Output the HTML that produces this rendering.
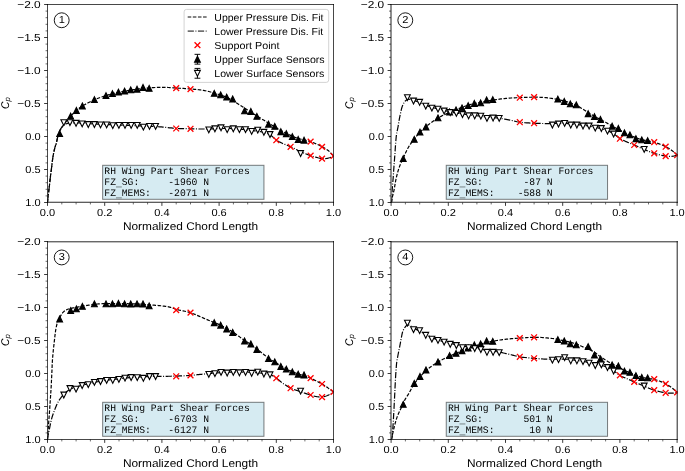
<!DOCTYPE html>
<html><head><meta charset="utf-8"><title>Cp distributions</title>
<style>html,body{margin:0;padding:0;background:#fff;width:685px;height:471px;overflow:hidden}svg{display:block;will-change:transform}</style>
</head><body>
<svg width="685" height="471" viewBox="0 0 685 471" text-rendering="geometricPrecision" font-family='"Liberation Sans", sans-serif'>
<rect width="685" height="471" fill="#fff"/>
<clipPath id="c0"><rect x="47.5" y="4.5" width="286" height="198"/></clipPath>
<g clip-path="url(#c0)">
<path d="M47.5 202.5 L47.57 201.75 L47.65 200.99 L47.72 200.24 L47.79 199.48 L47.87 198.73 L47.94 197.98 L48.02 197.24 L48.1 196.5 L48.18 195.82 L48.26 195.16 L48.35 194.52 L48.43 193.87 L48.52 193.21 L48.61 192.52 L48.7 191.79 L48.8 191 L48.95 189.68 L49.12 188.23 L49.29 186.68 L49.47 185.06 L49.65 183.41 L49.83 181.76 L50.02 180.15 L50.2 178.6 L50.37 177.19 L50.54 175.8 L50.72 174.43 L50.9 173.06 L51.07 171.7 L51.25 170.33 L51.42 168.97 L51.6 167.6 L51.77 166.22 L51.93 164.83 L52.09 163.43 L52.25 162.04 L52.42 160.66 L52.6 159.28 L52.79 157.93 L53 156.6 L53.22 155.36 L53.45 154.1 L53.7 152.84 L53.96 151.6 L54.22 150.39 L54.49 149.25 L54.75 148.18 L55 147.2 L55.16 146.62 L55.33 146.09 L55.5 145.6 L55.66 145.14 L55.83 144.68 L55.99 144.21 L56.15 143.72 L56.3 143.2 L56.47 142.54 L56.63 141.85 L56.79 141.14 L56.94 140.41 L57.1 139.68 L57.25 138.95 L57.42 138.22 L57.6 137.5 L57.79 136.78 L57.97 136.05 L58.16 135.31 L58.36 134.58 L58.57 133.86 L58.79 133.15 L59.04 132.46 L59.3 131.8 L59.56 131.23 L59.84 130.68 L60.13 130.14 L60.43 129.62 L60.74 129.11 L61.06 128.6 L61.38 128.1 L61.7 127.6 L62.01 127.12 L62.33 126.65 L62.64 126.18 L62.97 125.72 L63.3 125.27 L63.63 124.81 L63.96 124.36 L64.3 123.9 L64.65 123.43 L65 122.97 L65.36 122.51 L65.71 122.05 L66.08 121.59 L66.45 121.13 L66.82 120.67 L67.2 120.2 L67.6 119.71 L68 119.21 L68.41 118.72 L68.82 118.22 L69.24 117.72 L69.68 117.22 L70.13 116.71 L70.6 116.2 L71.17 115.59 L71.77 114.97 L72.38 114.34 L73.01 113.71 L73.66 113.07 L74.33 112.44 L75.01 111.81 L75.7 111.2 L76.45 110.55 L77.21 109.9 L77.98 109.26 L78.77 108.62 L79.59 107.99 L80.44 107.36 L81.34 106.73 L82.3 106.1 L83.63 105.28 L85.08 104.44 L86.6 103.59 L88.19 102.76 L89.81 101.94 L91.43 101.15 L93.04 100.4 L94.6 99.7 L96.02 99.09 L97.44 98.53 L98.85 97.99 L100.26 97.48 L101.68 96.99 L103.1 96.52 L104.54 96.06 L106 95.6 L107.54 95.13 L109.1 94.68 L110.67 94.24 L112.25 93.82 L113.84 93.42 L115.43 93.03 L117.02 92.65 L118.6 92.3 L120.14 91.97 L121.68 91.66 L123.22 91.37 L124.76 91.1 L126.3 90.84 L127.84 90.59 L129.37 90.34 L130.9 90.1 L132.39 89.87 L133.88 89.65 L135.37 89.43 L136.85 89.23 L138.33 89.03 L139.82 88.84 L141.3 88.67 L142.8 88.5 L144.32 88.34 L145.85 88.18 L147.39 88.04 L148.93 87.9 L150.46 87.78 L151.99 87.67 L153.5 87.58 L155 87.5 L156.4 87.44 L157.8 87.4 L159.18 87.37 L160.56 87.35 L161.93 87.35 L163.29 87.35 L164.65 87.37 L166 87.4 L167.28 87.44 L168.54 87.5 L169.78 87.57 L171.02 87.64 L172.27 87.73 L173.54 87.82 L174.85 87.91 L176.2 88 L177.89 88.11 L179.67 88.23 L181.51 88.35 L183.38 88.47 L185.25 88.6 L187.07 88.73 L188.84 88.87 L190.5 89 L191.79 89.11 L193.05 89.21 L194.27 89.31 L195.46 89.41 L196.63 89.52 L197.78 89.64 L198.9 89.76 L200 89.9 L200.93 90.03 L201.82 90.15 L202.7 90.29 L203.56 90.43 L204.41 90.58 L205.26 90.74 L206.13 90.91 L207 91.1 L207.92 91.31 L208.82 91.54 L209.72 91.78 L210.63 92.03 L211.55 92.3 L212.49 92.59 L213.48 92.88 L214.5 93.2 L215.91 93.63 L217.41 94.07 L218.97 94.54 L220.57 95.04 L222.19 95.57 L223.8 96.14 L225.37 96.74 L226.9 97.4 L228.4 98.12 L229.87 98.91 L231.33 99.74 L232.77 100.61 L234.21 101.5 L235.64 102.41 L237.06 103.31 L238.5 104.2 L239.94 105.09 L241.38 105.99 L242.8 106.89 L244.23 107.8 L245.66 108.72 L247.09 109.64 L248.54 110.57 L250 111.5 L251.54 112.48 L253.09 113.46 L254.65 114.46 L256.22 115.45 L257.8 116.45 L259.37 117.44 L260.94 118.43 L262.5 119.4 L264.03 120.35 L265.56 121.29 L267.09 122.23 L268.62 123.16 L270.15 124.09 L271.67 125 L273.19 125.91 L274.7 126.8 L276.15 127.65 L277.58 128.5 L279.01 129.34 L280.43 130.17 L281.86 130.99 L283.29 131.78 L284.74 132.56 L286.2 133.3 L287.66 134.01 L289.12 134.71 L290.6 135.39 L292.08 136.05 L293.57 136.68 L295.07 137.29 L296.58 137.86 L298.1 138.4 L299.64 138.88 L301.2 139.28 L302.78 139.65 L304.36 139.99 L305.94 140.33 L307.51 140.7 L309.07 141.11 L310.6 141.6 L312.13 142.16 L313.67 142.78 L315.22 143.44 L316.75 144.13 L318.24 144.83 L319.67 145.54 L321.03 146.23 L322.3 146.9 L323.19 147.38 L324.04 147.85 L324.84 148.31 L325.61 148.77 L326.36 149.24 L327.09 149.73 L327.8 150.25 L328.5 150.8 L329.18 151.39 L329.83 152.01 L330.46 152.65 L331.07 153.32 L331.68 153.99 L332.28 154.67 L332.88 155.34 L333.5 156" fill="none" stroke="#000" stroke-width="1.2" stroke-dasharray="3.57 1.55"/>
<path d="M47.5 202.5 L47.57 201.75 L47.65 200.99 L47.72 200.24 L47.79 199.48 L47.87 198.73 L47.94 197.98 L48.02 197.24 L48.1 196.5 L48.18 195.82 L48.26 195.16 L48.35 194.52 L48.43 193.87 L48.52 193.21 L48.61 192.52 L48.7 191.79 L48.8 191 L48.95 189.68 L49.12 188.23 L49.29 186.68 L49.47 185.06 L49.65 183.41 L49.83 181.76 L50.02 180.15 L50.2 178.6 L50.37 177.19 L50.54 175.8 L50.72 174.43 L50.9 173.06 L51.07 171.7 L51.25 170.33 L51.42 168.97 L51.6 167.6 L51.77 166.22 L51.93 164.83 L52.09 163.43 L52.25 162.04 L52.42 160.66 L52.6 159.28 L52.79 157.93 L53 156.6 L53.22 155.36 L53.45 154.1 L53.7 152.84 L53.96 151.6 L54.22 150.39 L54.49 149.25 L54.75 148.18 L55 147.2 L55.16 146.62 L55.33 146.09 L55.5 145.6 L55.66 145.14 L55.83 144.68 L55.99 144.21 L56.15 143.72 L56.3 143.2 L56.47 142.54 L56.63 141.85 L56.79 141.14 L56.94 140.41 L57.1 139.68 L57.25 138.95 L57.42 138.22 L57.6 137.5 L57.79 136.78 L57.98 136.05 L58.17 135.32 L58.37 134.59 L58.58 133.87 L58.8 133.16 L59.04 132.47 L59.3 131.8 L59.56 131.2 L59.83 130.61 L60.11 130.03 L60.41 129.46 L60.71 128.91 L61.03 128.38 L61.36 127.87 L61.7 127.4 L61.99 127.02 L62.29 126.65 L62.6 126.3 L62.91 125.96 L63.23 125.64 L63.57 125.34 L63.93 125.06 L64.3 124.8 L64.7 124.55 L65.12 124.32 L65.54 124.11 L65.99 123.91 L66.45 123.74 L66.94 123.58 L67.45 123.43 L68 123.3 L68.83 123.14 L69.73 123.02 L70.69 122.93 L71.7 122.87 L72.74 122.83 L73.81 122.81 L74.9 122.8 L76 122.8 L77.38 122.83 L78.83 122.9 L80.32 122.99 L81.85 123.12 L83.39 123.25 L84.94 123.38 L86.48 123.5 L88 123.6 L89.5 123.68 L90.99 123.76 L92.48 123.84 L93.98 123.91 L95.47 123.99 L96.97 124.06 L98.48 124.13 L100 124.2 L101.58 124.28 L103.18 124.36 L104.78 124.43 L106.39 124.51 L108 124.59 L109.61 124.66 L111.21 124.73 L112.8 124.8 L114.34 124.86 L115.87 124.91 L117.39 124.96 L118.91 125 L120.42 125.04 L121.94 125.09 L123.47 125.14 L125 125.2 L126.57 125.27 L128.14 125.34 L129.71 125.41 L131.29 125.49 L132.87 125.57 L134.45 125.65 L136.03 125.73 L137.6 125.8 L139.15 125.87 L140.7 125.93 L142.24 125.98 L143.79 126.04 L145.33 126.1 L146.88 126.16 L148.44 126.22 L150 126.3 L151.61 126.38 L153.23 126.47 L154.85 126.56 L156.48 126.65 L158.11 126.75 L159.74 126.86 L161.37 126.97 L163 127.1 L164.64 127.24 L166.28 127.41 L167.92 127.59 L169.56 127.78 L171.21 127.96 L172.86 128.13 L174.52 128.28 L176.2 128.4 L177.98 128.5 L179.8 128.57 L181.65 128.63 L183.49 128.67 L185.32 128.71 L187.12 128.73 L188.85 128.76 L190.5 128.8 L191.78 128.83 L193.01 128.86 L194.19 128.9 L195.36 128.93 L196.5 128.95 L197.65 128.97 L198.81 128.99 L200 129 L201.23 129 L202.46 129 L203.69 129 L204.93 128.99 L206.17 128.97 L207.43 128.95 L208.7 128.93 L210 128.9 L211.45 128.86 L212.94 128.81 L214.44 128.75 L215.96 128.69 L217.49 128.63 L219.01 128.57 L220.52 128.53 L222 128.5 L223.39 128.48 L224.77 128.47 L226.14 128.47 L227.5 128.47 L228.86 128.48 L230.23 128.51 L231.61 128.54 L233 128.6 L234.5 128.68 L236.04 128.78 L237.61 128.9 L239.17 129.03 L240.71 129.17 L242.22 129.31 L243.65 129.46 L245 129.6 L245.97 129.71 L246.9 129.82 L247.79 129.93 L248.65 130.05 L249.5 130.16 L250.33 130.27 L251.16 130.39 L252 130.5 L252.77 130.6 L253.53 130.7 L254.29 130.79 L255.03 130.88 L255.77 130.98 L256.51 131.08 L257.25 131.19 L258 131.3 L258.75 131.42 L259.5 131.53 L260.26 131.64 L261.01 131.76 L261.76 131.89 L262.51 132.03 L263.26 132.2 L264 132.4 L264.77 132.62 L265.55 132.86 L266.32 133.11 L267.09 133.38 L267.86 133.68 L268.61 134.01 L269.36 134.38 L270.1 134.8 L270.9 135.34 L271.68 135.97 L272.44 136.66 L273.19 137.38 L273.95 138.12 L274.71 138.83 L275.49 139.5 L276.3 140.1 L277.1 140.62 L277.91 141.1 L278.73 141.55 L279.57 141.98 L280.41 142.39 L281.26 142.79 L282.13 143.19 L283 143.6 L283.92 144.02 L284.86 144.41 L285.8 144.8 L286.75 145.17 L287.72 145.55 L288.7 145.95 L289.69 146.36 L290.7 146.8 L291.88 147.35 L293.09 147.93 L294.32 148.55 L295.57 149.17 L296.82 149.8 L298.08 150.43 L299.34 151.03 L300.6 151.6 L301.83 152.14 L303.06 152.68 L304.29 153.21 L305.53 153.72 L306.77 154.22 L308.03 154.7 L309.3 155.16 L310.6 155.6 L312.01 156.05 L313.49 156.51 L315 156.96 L316.52 157.38 L318.01 157.76 L319.46 158.08 L320.83 158.33 L322.1 158.5 L322.93 158.57 L323.71 158.61 L324.46 158.61 L325.19 158.59 L325.9 158.54 L326.6 158.45 L327.29 158.34 L328 158.2 L328.71 158.02 L329.4 157.78 L330.09 157.51 L330.78 157.22 L331.46 156.91 L332.13 156.59 L332.82 156.29 L333.5 156" fill="none" stroke="#000" stroke-width="1.2" stroke-dasharray="6.18 1.55 0.97 1.55"/>
<path d="M173.3 85.2L179.1 91M173.3 91L179.1 85.2M187.6 86.2L193.4 92M187.6 92L193.4 86.2M307.72 138.7L313.52 144.5M307.72 144.5L313.52 138.7M319.16 144L324.96 149.8M319.16 149.8L324.96 144M330.6 153.1L336.4 158.9M330.6 158.9L336.4 153.1M173.3 125.6L179.1 131.4M173.3 131.4L179.1 125.6M187.6 125.9L193.4 131.7M187.6 131.7L193.4 125.9M273.4 137.3L279.2 143.1M273.4 143.1L279.2 137.3M287.7 143.9L293.5 149.7M287.7 149.7L293.5 143.9M307.72 152.7L313.52 158.5M307.72 158.5L313.52 152.7M319.16 155.7L324.96 161.5M319.16 161.5L324.96 155.7M330.6 153.1L336.4 158.9M330.6 158.9L336.4 153.1" fill="none" stroke="#ff0000" stroke-width="1.3"/>
<path d="M59.66 130.7L56.76 136.5L62.55 136.5ZM70.67 113.2L67.77 119L73.56 119ZM76.39 107.6L73.49 113.4L79.28 113.4ZM82.39 103.1L79.49 108.9L85.29 108.9ZM94.4 96.7L91.51 102.5L97.3 102.5ZM105.99 92.7L103.09 98.5L108.88 98.5ZM112.42 90.7L109.52 96.5L115.32 96.5ZM118.43 89.2L115.53 95L121.33 95ZM124.58 88.2L121.68 94L127.47 94ZM130.73 86.9L127.83 92.7L133.62 92.7ZM137.02 86.3L134.12 92.1L139.92 92.1ZM143.02 84.6L140.13 90.4L145.92 90.4ZM149.17 85.5L146.28 91.3L152.07 91.3ZM214.24 90.4L211.34 96.2L217.14 96.2ZM220.67 91.9L217.78 97.7L223.57 97.7ZM226.68 94.2L223.78 100L229.58 100ZM232.69 96.1L229.79 101.9L235.58 101.9ZM244.55 107.9L241.66 113.7L247.45 113.7ZM250.85 108.6L247.95 114.4L253.74 114.4ZM256.85 113.5L253.95 119.3L259.75 119.3ZM268.52 121.3L265.62 127.1L271.42 127.1ZM274.76 123.5L271.86 129.3L277.65 129.3ZM280.82 128.8L277.92 134.6L283.72 134.6ZM286.31 130.8L283.41 136.6L289.21 136.6ZM292.32 133.7L289.42 139.5L295.21 139.5ZM298.18 136.6L295.28 142.4L301.08 142.4ZM304.04 137.3L301.14 143.1L306.94 143.1Z" fill="#000" stroke="#000" stroke-width="1.1" stroke-linejoin="miter"/>
<path d="M63.8 125.6L60.9 119.8L66.7 119.8Z" fill="#fff" stroke="#000" stroke-width="1.1"/>
<path d="M69.92 125.5L67.02 119.7L72.82 119.7Z" fill="#fff" stroke="#000" stroke-width="1.1"/>
<path d="M76.04 126.2L73.14 120.4L78.94 120.4Z" fill="#fff" stroke="#000" stroke-width="1.1"/>
<path d="M82.16 126.8L79.27 121L85.06 121Z" fill="#fff" stroke="#000" stroke-width="1.1"/>
<path d="M88.28 127.4L85.39 121.6L91.18 121.6Z" fill="#fff" stroke="#000" stroke-width="1.1"/>
<path d="M94.4 127.4L91.51 121.6L97.3 121.6Z" fill="#fff" stroke="#000" stroke-width="1.1"/>
<path d="M100.52 127.8L97.63 122L103.42 122Z" fill="#fff" stroke="#000" stroke-width="1.1"/>
<path d="M106.64 127.8L103.75 122L109.54 122Z" fill="#fff" stroke="#000" stroke-width="1.1"/>
<path d="M112.77 128.5L109.87 122.7L115.66 122.7Z" fill="#fff" stroke="#000" stroke-width="1.1"/>
<path d="M118.89 128.3L115.99 122.5L121.78 122.5Z" fill="#fff" stroke="#000" stroke-width="1.1"/>
<path d="M125.01 128.3L122.11 122.5L127.9 122.5Z" fill="#fff" stroke="#000" stroke-width="1.1"/>
<path d="M131.13 128.3L128.23 122.5L134.02 122.5Z" fill="#fff" stroke="#000" stroke-width="1.1"/>
<path d="M137.25 128.3L134.35 122.5L140.14 122.5Z" fill="#fff" stroke="#000" stroke-width="1.1"/>
<path d="M143.37 130L140.47 124.2L146.27 124.2Z" fill="#fff" stroke="#000" stroke-width="1.1"/>
<path d="M149.49 129.3L146.59 123.5L152.39 123.5Z" fill="#fff" stroke="#000" stroke-width="1.1"/>
<path d="M155.61 129.3L152.71 123.5L158.51 123.5Z" fill="#fff" stroke="#000" stroke-width="1.1"/>
<path d="M208.8 132.8L205.91 127L211.7 127Z" fill="#fff" stroke="#000" stroke-width="1.1"/>
<path d="M214.92 131.7L212.03 125.9L217.82 125.9Z" fill="#fff" stroke="#000" stroke-width="1.1"/>
<path d="M221.04 130.7L218.15 124.9L223.94 124.9Z" fill="#fff" stroke="#000" stroke-width="1.1"/>
<path d="M227.17 132.6L224.27 126.8L230.06 126.8Z" fill="#fff" stroke="#000" stroke-width="1.1"/>
<path d="M233.29 131.7L230.39 125.9L236.18 125.9Z" fill="#fff" stroke="#000" stroke-width="1.1"/>
<path d="M239.41 132.6L236.51 126.8L242.3 126.8Z" fill="#fff" stroke="#000" stroke-width="1.1"/>
<path d="M245.53 132.6L242.63 126.8L248.42 126.8Z" fill="#fff" stroke="#000" stroke-width="1.1"/>
<path d="M251.65 134.3L248.75 128.5L254.54 128.5Z" fill="#fff" stroke="#000" stroke-width="1.1"/>
<path d="M257.77 133L254.87 127.2L260.67 127.2Z" fill="#fff" stroke="#000" stroke-width="1.1"/>
<path d="M263.89 135.2L260.99 129.4L266.79 129.4Z" fill="#fff" stroke="#000" stroke-width="1.1"/>
<path d="M270.01 137.4L267.11 131.6L272.91 131.6Z" fill="#fff" stroke="#000" stroke-width="1.1"/>
<path d="M300.61 156.4L297.71 150.6L303.51 150.6Z" fill="#fff" stroke="#000" stroke-width="1.1"/>
</g>
<path d="M47.5 4.5H44.12M47.5 37.5H44.12M47.5 70.5H44.12M47.5 103.5H44.12M47.5 136.5H44.12M47.5 169.5H44.12M47.5 202.5H44.12M47.5 202.5V205.88M104.7 202.5V205.88M161.9 202.5V205.88M219.1 202.5V205.88M276.3 202.5V205.88M333.5 202.5V205.88" stroke="#000" stroke-width="0.77" fill="none"/>
<path d="M47.5 11.1H45.57M47.5 17.7H45.57M47.5 24.3H45.57M47.5 30.9H45.57M47.5 44.1H45.57M47.5 50.7H45.57M47.5 57.3H45.57M47.5 63.9H45.57M47.5 77.1H45.57M47.5 83.7H45.57M47.5 90.3H45.57M47.5 96.9H45.57M47.5 110.1H45.57M47.5 116.7H45.57M47.5 123.3H45.57M47.5 129.9H45.57M47.5 143.1H45.57M47.5 149.7H45.57M47.5 156.3H45.57M47.5 162.9H45.57M47.5 176.1H45.57M47.5 182.7H45.57M47.5 189.3H45.57M47.5 195.9H45.57M61.8 202.5V204.43M76.1 202.5V204.43M90.4 202.5V204.43M119 202.5V204.43M133.3 202.5V204.43M147.6 202.5V204.43M176.2 202.5V204.43M190.5 202.5V204.43M204.8 202.5V204.43M233.4 202.5V204.43M247.7 202.5V204.43M262 202.5V204.43M290.6 202.5V204.43M304.9 202.5V204.43M319.2 202.5V204.43" stroke="#000" stroke-width="0.58" fill="none"/>
<text x="40.74" y="8.35" font-size="10.2" text-anchor="end" font-family='"Liberation Sans", sans-serif' fill="#000" textLength="23.46" lengthAdjust="spacingAndGlyphs">−2.0</text>
<text x="40.74" y="41.35" font-size="10.2" text-anchor="end" font-family='"Liberation Sans", sans-serif' fill="#000" textLength="23.46" lengthAdjust="spacingAndGlyphs">−1.5</text>
<text x="40.74" y="74.35" font-size="10.2" text-anchor="end" font-family='"Liberation Sans", sans-serif' fill="#000" textLength="23.46" lengthAdjust="spacingAndGlyphs">−1.0</text>
<text x="40.74" y="107.35" font-size="10.2" text-anchor="end" font-family='"Liberation Sans", sans-serif' fill="#000" textLength="23.46" lengthAdjust="spacingAndGlyphs">−0.5</text>
<text x="40.74" y="140.35" font-size="10.2" text-anchor="end" font-family='"Liberation Sans", sans-serif' fill="#000" textLength="15.36" lengthAdjust="spacingAndGlyphs">0.0</text>
<text x="40.74" y="173.35" font-size="10.2" text-anchor="end" font-family='"Liberation Sans", sans-serif' fill="#000" textLength="15.36" lengthAdjust="spacingAndGlyphs">0.5</text>
<text x="40.74" y="206.35" font-size="10.2" text-anchor="end" font-family='"Liberation Sans", sans-serif' fill="#000" textLength="15.36" lengthAdjust="spacingAndGlyphs">1.0</text>
<text x="47.5" y="216.2" font-size="10.2" text-anchor="middle" font-family='"Liberation Sans", sans-serif' fill="#000" textLength="15.36" lengthAdjust="spacingAndGlyphs">0.0</text>
<text x="104.7" y="216.2" font-size="10.2" text-anchor="middle" font-family='"Liberation Sans", sans-serif' fill="#000" textLength="15.36" lengthAdjust="spacingAndGlyphs">0.2</text>
<text x="161.9" y="216.2" font-size="10.2" text-anchor="middle" font-family='"Liberation Sans", sans-serif' fill="#000" textLength="15.36" lengthAdjust="spacingAndGlyphs">0.4</text>
<text x="219.1" y="216.2" font-size="10.2" text-anchor="middle" font-family='"Liberation Sans", sans-serif' fill="#000" textLength="15.36" lengthAdjust="spacingAndGlyphs">0.6</text>
<text x="276.3" y="216.2" font-size="10.2" text-anchor="middle" font-family='"Liberation Sans", sans-serif' fill="#000" textLength="15.36" lengthAdjust="spacingAndGlyphs">0.8</text>
<text x="333.5" y="216.2" font-size="10.2" text-anchor="middle" font-family='"Liberation Sans", sans-serif' fill="#000" textLength="15.36" lengthAdjust="spacingAndGlyphs">1.0</text>
<text x="190.5" y="230.3" font-size="11.22" text-anchor="middle" font-family='"Liberation Sans", sans-serif' fill="#000" textLength="135.25" lengthAdjust="spacingAndGlyphs">Normalized Chord Length</text>
<g transform="translate(9.1 103.5) rotate(-90)">
<text x="-5.6" y="0" font-size="11.22" font-family='"Liberation Sans", sans-serif' font-style="italic" textLength="7.42" lengthAdjust="spacingAndGlyphs">C</text>
<text x="2.0" y="0.9" font-size="7.85" font-family='"Liberation Sans", sans-serif' font-style="italic">p</text>
</g>
<circle cx="61.7" cy="20.25" r="7.45" fill="none" stroke="#000" stroke-width="0.9"/>
<text x="61.8" y="23.25" font-size="10.2" text-anchor="middle" font-family='"Liberation Sans", sans-serif' fill="#000" textLength="6.15" lengthAdjust="spacingAndGlyphs">1</text>
<rect x="102.65" y="165.3" width="161.3" height="34.0" fill="#d6ebf2" stroke="#000" stroke-opacity="0.5" stroke-width="1"/>
<text x="104.35" y="173.9" font-size="10" font-family='"Liberation Mono", monospace' fill="#000" xml:space="preserve" textLength="145.39" lengthAdjust="spacingAndGlyphs">RH Wing Part Shear Forces</text>
<text x="104.35" y="184.85" font-size="10" font-family='"Liberation Mono", monospace' fill="#000" xml:space="preserve" textLength="104.68" lengthAdjust="spacingAndGlyphs">FZ SG:     -1960 N</text>
<rect x="115.98" y="186.7" width="5.82" height="0.55" fill="#000" fill-opacity="0.8"/>
<text x="104.35" y="195.8" font-size="10" font-family='"Liberation Mono", monospace' fill="#000" xml:space="preserve" textLength="104.68" lengthAdjust="spacingAndGlyphs">FZ MEMS:   -2071 N</text>
<rect x="115.98" y="197.65" width="5.82" height="0.55" fill="#000" fill-opacity="0.8"/>
<path d="M47.5 4.5H333.5" stroke="#000" stroke-width="0.72" fill="none" stroke-linecap="square"/>
<path d="M47.5 202.25H333.5" stroke="#000" stroke-width="0.85" fill="none" stroke-linecap="square"/>
<path d="M47.5 4.5V202.5M333.5 4.5V202.5" stroke="#000" stroke-width="0.72" fill="none" stroke-linecap="square"/>
<clipPath id="c1"><rect x="391.5" y="4.5" width="286" height="198"/></clipPath>
<g clip-path="url(#c1)">
<path d="M391.5 202.5 L391.62 201.75 L391.74 201 L391.85 200.25 L391.97 199.5 L392.09 198.75 L392.22 198 L392.35 197.25 L392.5 196.5 L392.66 195.74 L392.84 195.01 L393.02 194.28 L393.21 193.54 L393.41 192.79 L393.61 192.01 L393.8 191.18 L394 190.3 L394.27 188.93 L394.53 187.44 L394.8 185.86 L395.07 184.22 L395.35 182.55 L395.64 180.89 L395.96 179.26 L396.3 177.7 L396.65 176.26 L397.01 174.82 L397.38 173.4 L397.78 171.99 L398.18 170.6 L398.61 169.23 L399.05 167.9 L399.5 166.6 L399.92 165.49 L400.35 164.42 L400.8 163.39 L401.25 162.37 L401.72 161.36 L402.2 160.33 L402.7 159.29 L403.2 158.2 L403.78 156.91 L404.38 155.57 L404.99 154.19 L405.62 152.8 L406.26 151.42 L406.92 150.06 L407.6 148.75 L408.3 147.5 L408.95 146.42 L409.62 145.37 L410.3 144.36 L411 143.37 L411.71 142.39 L412.43 141.43 L413.16 140.46 L413.9 139.5 L414.65 138.53 L415.42 137.55 L416.2 136.58 L417 135.62 L417.8 134.67 L418.6 133.75 L419.4 132.86 L420.2 132 L420.9 131.27 L421.58 130.58 L422.25 129.92 L422.93 129.27 L423.63 128.62 L424.37 127.97 L425.15 127.3 L426 126.6 L427.28 125.57 L428.7 124.47 L430.21 123.33 L431.78 122.17 L433.38 121.03 L434.97 119.94 L436.53 118.92 L438 118 L439.17 117.32 L440.31 116.69 L441.44 116.11 L442.56 115.56 L443.67 115.03 L444.78 114.52 L445.89 114.01 L447 113.5 L448.06 113.02 L449.09 112.56 L450.12 112.11 L451.15 111.67 L452.19 111.24 L453.26 110.8 L454.36 110.36 L455.5 109.9 L456.94 109.32 L458.45 108.71 L460.01 108.09 L461.6 107.46 L463.2 106.85 L464.82 106.26 L466.42 105.7 L468 105.2 L469.5 104.77 L470.99 104.37 L472.48 104 L473.97 103.66 L475.46 103.34 L476.96 103.02 L478.48 102.71 L480 102.4 L481.59 102.08 L483.18 101.77 L484.79 101.47 L486.41 101.17 L488.03 100.89 L489.65 100.62 L491.28 100.35 L492.9 100.1 L494.53 99.85 L496.16 99.61 L497.79 99.38 L499.42 99.16 L501.06 98.94 L502.7 98.75 L504.35 98.57 L506 98.4 L507.68 98.25 L509.37 98.12 L511.06 98.01 L512.76 97.92 L514.46 97.83 L516.17 97.75 L517.88 97.67 L519.6 97.6 L521.39 97.52 L523.22 97.45 L525.08 97.39 L526.93 97.33 L528.76 97.28 L530.54 97.24 L532.26 97.21 L533.9 97.2 L535.14 97.2 L536.32 97.2 L537.47 97.2 L538.59 97.22 L539.69 97.24 L540.79 97.28 L541.89 97.33 L543 97.4 L544.09 97.48 L545.15 97.57 L546.2 97.67 L547.25 97.78 L548.32 97.91 L549.41 98.05 L550.53 98.22 L551.7 98.4 L553.24 98.66 L554.87 98.95 L556.55 99.26 L558.27 99.61 L560 99.97 L561.71 100.36 L563.39 100.77 L565 101.2 L566.46 101.61 L567.92 102.05 L569.38 102.5 L570.81 102.97 L572.2 103.45 L573.54 103.96 L574.81 104.47 L576 105 L576.86 105.42 L577.66 105.85 L578.42 106.29 L579.14 106.74 L579.85 107.2 L580.56 107.66 L581.27 108.13 L582 108.6 L582.75 109.09 L583.5 109.59 L584.24 110.09 L584.99 110.6 L585.73 111.11 L586.48 111.62 L587.24 112.12 L588 112.6 L588.77 113.07 L589.56 113.53 L590.34 113.99 L591.13 114.44 L591.93 114.88 L592.72 115.32 L593.51 115.76 L594.3 116.2 L595.08 116.63 L595.86 117.07 L596.64 117.5 L597.42 117.93 L598.2 118.35 L598.97 118.78 L599.74 119.19 L600.5 119.6 L601.2 119.97 L601.89 120.33 L602.57 120.69 L603.25 121.04 L603.92 121.39 L604.61 121.75 L605.3 122.12 L606 122.5 L606.78 122.94 L607.57 123.39 L608.38 123.86 L609.18 124.34 L609.99 124.82 L610.8 125.29 L611.6 125.75 L612.4 126.2 L613.16 126.62 L613.91 127.02 L614.66 127.42 L615.41 127.82 L616.16 128.21 L616.9 128.61 L617.65 129 L618.4 129.4 L619.15 129.8 L619.9 130.21 L620.65 130.62 L621.4 131.03 L622.15 131.43 L622.9 131.83 L623.65 132.22 L624.4 132.6 L625.13 132.96 L625.85 133.31 L626.57 133.65 L627.3 133.99 L628.02 134.33 L628.75 134.65 L629.47 134.98 L630.2 135.3 L630.92 135.62 L631.64 135.93 L632.36 136.24 L633.08 136.55 L633.81 136.85 L634.54 137.14 L635.27 137.43 L636 137.7 L636.74 137.97 L637.49 138.22 L638.24 138.47 L638.99 138.72 L639.75 138.95 L640.5 139.18 L641.25 139.39 L642 139.6 L642.71 139.79 L643.42 139.96 L644.13 140.13 L644.84 140.29 L645.54 140.44 L646.26 140.59 L646.97 140.74 L647.7 140.9 L648.47 141.06 L649.26 141.21 L650.05 141.36 L650.85 141.51 L651.64 141.66 L652.43 141.83 L653.22 142 L654 142.2 L654.76 142.41 L655.52 142.64 L656.27 142.88 L657.02 143.13 L657.77 143.38 L658.52 143.65 L659.26 143.92 L660 144.2 L660.75 144.48 L661.49 144.77 L662.24 145.06 L662.98 145.36 L663.72 145.67 L664.46 146 L665.18 146.34 L665.9 146.7 L666.62 147.08 L667.33 147.48 L668.03 147.9 L668.73 148.32 L669.42 148.77 L670.11 149.23 L670.81 149.71 L671.5 150.2 L672.25 150.77 L673.01 151.36 L673.76 151.98 L674.51 152.62 L675.25 153.27 L676 153.92 L676.75 154.57 L677.5 155.2" fill="none" stroke="#000" stroke-width="1.2" stroke-dasharray="3.57 1.55"/>
<path d="M391.5 202.5 L391.59 200.94 L391.67 199.37 L391.75 197.81 L391.83 196.25 L391.92 194.69 L392 193.12 L392.1 191.56 L392.2 190 L392.31 188.43 L392.43 186.86 L392.56 185.29 L392.69 183.72 L392.82 182.15 L392.95 180.59 L393.08 179.04 L393.2 177.5 L393.31 176.04 L393.41 174.58 L393.51 173.13 L393.61 171.69 L393.7 170.25 L393.8 168.83 L393.9 167.41 L394 166 L394.1 164.67 L394.2 163.35 L394.3 162.05 L394.4 160.75 L394.5 159.45 L394.6 158.15 L394.7 156.83 L394.8 155.5 L394.9 154.08 L395 152.64 L395.09 151.18 L395.19 149.71 L395.29 148.25 L395.39 146.81 L395.49 145.39 L395.6 144 L395.7 142.76 L395.79 141.53 L395.89 140.32 L395.99 139.12 L396.1 137.94 L396.21 136.77 L396.35 135.62 L396.5 134.5 L396.66 133.52 L396.84 132.56 L397.03 131.61 L397.23 130.68 L397.43 129.76 L397.63 128.84 L397.82 127.92 L398 127 L398.16 126.09 L398.31 125.19 L398.46 124.29 L398.6 123.39 L398.74 122.5 L398.89 121.6 L399.04 120.7 L399.2 119.8 L399.37 118.88 L399.55 117.96 L399.73 117.03 L399.92 116.1 L400.11 115.18 L400.31 114.27 L400.5 113.37 L400.7 112.5 L400.88 111.72 L401.05 110.95 L401.22 110.18 L401.39 109.43 L401.57 108.69 L401.77 107.97 L401.97 107.27 L402.2 106.6 L402.41 106.05 L402.62 105.5 L402.84 104.97 L403.08 104.46 L403.32 103.97 L403.57 103.49 L403.83 103.03 L404.1 102.6 L404.34 102.25 L404.59 101.9 L404.85 101.57 L405.11 101.25 L405.38 100.96 L405.65 100.68 L405.93 100.43 L406.2 100.2 L406.42 100.04 L406.63 99.89 L406.84 99.76 L407.06 99.63 L407.28 99.53 L407.51 99.44 L407.75 99.36 L408 99.3 L408.33 99.25 L408.69 99.23 L409.06 99.24 L409.45 99.27 L409.84 99.31 L410.23 99.37 L410.62 99.43 L411 99.5 L411.37 99.58 L411.73 99.66 L412.09 99.76 L412.44 99.87 L412.81 99.99 L413.18 100.12 L413.58 100.26 L414 100.4 L414.65 100.62 L415.36 100.87 L416.11 101.13 L416.88 101.41 L417.67 101.7 L418.46 102 L419.24 102.3 L420 102.6 L420.75 102.91 L421.5 103.23 L422.25 103.56 L423 103.9 L423.75 104.24 L424.5 104.57 L425.25 104.89 L426 105.2 L426.74 105.5 L427.49 105.79 L428.23 106.08 L428.98 106.37 L429.73 106.64 L430.48 106.91 L431.24 107.16 L432 107.4 L432.78 107.62 L433.56 107.83 L434.36 108.02 L435.15 108.2 L435.95 108.37 L436.74 108.54 L437.53 108.72 L438.3 108.9 L439.03 109.08 L439.74 109.25 L440.45 109.42 L441.16 109.6 L441.86 109.77 L442.57 109.95 L443.28 110.12 L444 110.3 L444.74 110.49 L445.49 110.68 L446.23 110.88 L446.98 111.07 L447.73 111.26 L448.49 111.45 L449.24 111.63 L450 111.8 L450.77 111.96 L451.54 112.11 L452.31 112.25 L453.09 112.38 L453.86 112.51 L454.64 112.64 L455.42 112.77 L456.2 112.9 L456.99 113.03 L457.78 113.16 L458.57 113.29 L459.36 113.41 L460.15 113.53 L460.94 113.66 L461.72 113.78 L462.5 113.9 L463.23 114.02 L463.96 114.13 L464.68 114.25 L465.4 114.37 L466.12 114.48 L466.84 114.59 L467.56 114.7 L468.3 114.8 L469.07 114.9 L469.85 114.99 L470.64 115.08 L471.43 115.17 L472.22 115.25 L473.01 115.33 L473.81 115.41 L474.6 115.5 L475.4 115.59 L476.2 115.67 L477 115.76 L477.8 115.84 L478.6 115.93 L479.4 116.02 L480.2 116.11 L481 116.2 L481.8 116.3 L482.61 116.4 L483.41 116.5 L484.21 116.61 L485.01 116.71 L485.81 116.81 L486.61 116.91 L487.4 117 L488.16 117.08 L488.91 117.16 L489.66 117.23 L490.4 117.31 L491.15 117.38 L491.89 117.45 L492.64 117.52 L493.4 117.6 L494.17 117.68 L494.93 117.75 L495.69 117.83 L496.45 117.91 L497.22 117.99 L498.02 118.08 L498.84 118.18 L499.7 118.3 L500.87 118.47 L502.11 118.67 L503.4 118.88 L504.72 119.11 L506.06 119.35 L507.4 119.6 L508.71 119.85 L510 120.1 L511.2 120.35 L512.38 120.63 L513.54 120.91 L514.7 121.2 L515.87 121.48 L517.07 121.75 L518.31 121.99 L519.6 122.2 L521.27 122.41 L523.04 122.58 L524.89 122.73 L526.77 122.85 L528.64 122.95 L530.48 123.04 L532.25 123.12 L533.9 123.2 L535.13 123.26 L536.32 123.31 L537.46 123.35 L538.57 123.39 L539.67 123.42 L540.77 123.45 L541.87 123.48 L543 123.5 L544.16 123.52 L545.34 123.55 L546.53 123.57 L547.72 123.59 L548.89 123.6 L550.04 123.61 L551.14 123.61 L552.2 123.6 L553.01 123.59 L553.79 123.56 L554.54 123.53 L555.28 123.5 L556 123.47 L556.73 123.44 L557.46 123.42 L558.2 123.4 L558.96 123.39 L559.72 123.38 L560.48 123.37 L561.24 123.36 L562 123.36 L562.76 123.37 L563.53 123.38 L564.3 123.4 L565.1 123.43 L565.9 123.47 L566.71 123.51 L567.51 123.56 L568.32 123.61 L569.12 123.67 L569.92 123.74 L570.7 123.8 L571.43 123.86 L572.14 123.93 L572.85 124 L573.55 124.08 L574.25 124.15 L574.96 124.23 L575.67 124.32 L576.4 124.4 L577.18 124.49 L577.98 124.59 L578.78 124.68 L579.58 124.78 L580.39 124.88 L581.2 124.99 L582 125.09 L582.8 125.2 L583.59 125.31 L584.39 125.41 L585.18 125.51 L585.97 125.62 L586.76 125.73 L587.55 125.85 L588.33 125.97 L589.1 126.1 L589.84 126.23 L590.57 126.38 L591.29 126.52 L592.01 126.68 L592.73 126.83 L593.45 126.99 L594.17 127.14 L594.9 127.3 L595.66 127.46 L596.42 127.61 L597.18 127.76 L597.95 127.91 L598.72 128.07 L599.48 128.23 L600.24 128.41 L601 128.6 L601.76 128.8 L602.51 129.01 L603.26 129.22 L604.01 129.45 L604.76 129.69 L605.51 129.94 L606.25 130.21 L607 130.5 L607.79 130.82 L608.58 131.16 L609.37 131.52 L610.16 131.9 L610.95 132.29 L611.74 132.7 L612.52 133.14 L613.3 133.6 L614.14 134.15 L614.97 134.74 L615.8 135.38 L616.63 136.03 L617.46 136.69 L618.29 137.33 L619.14 137.94 L620 138.5 L620.85 139 L621.71 139.47 L622.58 139.93 L623.45 140.36 L624.33 140.78 L625.22 141.19 L626.11 141.6 L627 142 L627.89 142.4 L628.78 142.77 L629.68 143.13 L630.57 143.49 L631.48 143.85 L632.4 144.21 L633.34 144.6 L634.3 145 L635.44 145.5 L636.6 146.02 L637.79 146.56 L639 147.12 L640.22 147.67 L641.45 148.23 L642.68 148.77 L643.9 149.3 L645.14 149.83 L646.38 150.36 L647.61 150.89 L648.86 151.41 L650.12 151.91 L651.39 152.4 L652.68 152.87 L654 153.3 L655.46 153.74 L656.98 154.17 L658.54 154.59 L660.11 154.98 L661.66 155.33 L663.17 155.64 L664.59 155.9 L665.9 156.1 L666.76 156.2 L667.57 156.29 L668.34 156.34 L669.09 156.38 L669.82 156.39 L670.55 156.38 L671.27 156.35 L672 156.3 L672.7 156.22 L673.4 156.11 L674.09 155.98 L674.77 155.83 L675.45 155.67 L676.13 155.5 L676.81 155.35 L677.5 155.2" fill="none" stroke="#000" stroke-width="1.2" stroke-dasharray="6.18 1.55 0.97 1.55"/>
<path d="M516.9 94.8L522.7 100.6M516.9 100.6L522.7 94.8M531.2 94.2L537 100M531.2 100L537 94.2M651.32 139.2L657.12 145M651.32 145L657.12 139.2M662.76 143.8L668.56 149.6M662.76 149.6L668.56 143.8M674.2 152.3L680 158.1M674.2 158.1L680 152.3M516.9 119.3L522.7 125.1M516.9 125.1L522.7 119.3M531.2 120.3L537 126.1M531.2 126.1L537 120.3M617 135.8L622.8 141.6M617 141.6L622.8 135.8M631.3 142.1L637.1 147.9M631.3 147.9L637.1 142.1M651.32 150.4L657.12 156.2M651.32 156.2L657.12 150.4M662.76 153.2L668.56 159M662.76 159L668.56 153.2M674.2 152.3L680 158.1M674.2 158.1L680 152.3" fill="none" stroke="#ff0000" stroke-width="1.3"/>
<path d="M403.25 155.7L400.36 161.5L406.15 161.5ZM414.27 136.4L411.37 142.2L417.16 142.2ZM419.99 129.2L417.09 135L422.88 135ZM425.99 124.1L423.09 129.9L428.89 129.9ZM438 115L435.11 120.8L440.9 120.8ZM449.59 109.1L446.69 114.9L452.49 114.9ZM456.02 106.9L453.12 112.7L458.92 112.7ZM462.03 105L459.13 110.8L464.93 110.8ZM468.18 102.7L465.28 108.5L471.08 108.5ZM474.33 100.6L471.43 106.4L477.22 106.4ZM480.62 99.9L477.72 105.7L483.52 105.7ZM486.62 97.1L483.73 102.9L489.52 102.9ZM492.77 96.7L489.88 102.5L495.67 102.5ZM557.84 96.2L554.94 102L560.74 102ZM564.27 98.6L561.38 104.4L567.17 104.4ZM570.28 100.9L567.38 106.7L573.18 106.7ZM576.29 101.9L573.39 107.7L579.18 107.7ZM588.15 110.8L585.26 116.6L591.05 116.6ZM594.45 113.7L591.55 119.5L597.34 119.5ZM600.45 116.6L597.55 122.4L603.35 122.4ZM612.12 123.3L609.22 129.1L615.02 129.1ZM618.36 125.6L615.46 131.4L621.25 131.4ZM624.42 130L621.52 135.8L627.32 135.8ZM629.91 131.9L627.01 137.7L632.81 137.7ZM635.92 135.8L633.02 141.6L638.81 141.6ZM641.78 137L638.88 142.8L644.68 142.8ZM647.64 137.7L644.74 143.5L650.54 143.5Z" fill="#000" stroke="#000" stroke-width="1.1" stroke-linejoin="miter"/>
<path d="M407.4 100.5L404.5 94.7L410.3 94.7Z" fill="#fff" stroke="#000" stroke-width="1.1"/>
<path d="M413.52 103.9L410.62 98.1L416.42 98.1Z" fill="#fff" stroke="#000" stroke-width="1.1"/>
<path d="M419.64 105.2L416.74 99.4L422.54 99.4Z" fill="#fff" stroke="#000" stroke-width="1.1"/>
<path d="M425.76 109L422.87 103.2L428.66 103.2Z" fill="#fff" stroke="#000" stroke-width="1.1"/>
<path d="M431.88 111.1L428.99 105.3L434.78 105.3Z" fill="#fff" stroke="#000" stroke-width="1.1"/>
<path d="M438 112L435.11 106.2L440.9 106.2Z" fill="#fff" stroke="#000" stroke-width="1.1"/>
<path d="M444.12 113.9L441.23 108.1L447.02 108.1Z" fill="#fff" stroke="#000" stroke-width="1.1"/>
<path d="M450.24 115.4L447.35 109.6L453.14 109.6Z" fill="#fff" stroke="#000" stroke-width="1.1"/>
<path d="M456.37 116.2L453.47 110.4L459.26 110.4Z" fill="#fff" stroke="#000" stroke-width="1.1"/>
<path d="M462.49 117.4L459.59 111.6L465.38 111.6Z" fill="#fff" stroke="#000" stroke-width="1.1"/>
<path d="M468.61 118.7L465.71 112.9L471.5 112.9Z" fill="#fff" stroke="#000" stroke-width="1.1"/>
<path d="M474.73 118.7L471.83 112.9L477.62 112.9Z" fill="#fff" stroke="#000" stroke-width="1.1"/>
<path d="M480.85 119L477.95 113.2L483.74 113.2Z" fill="#fff" stroke="#000" stroke-width="1.1"/>
<path d="M486.97 121.3L484.07 115.5L489.87 115.5Z" fill="#fff" stroke="#000" stroke-width="1.1"/>
<path d="M493.09 120.9L490.19 115.1L495.99 115.1Z" fill="#fff" stroke="#000" stroke-width="1.1"/>
<path d="M499.21 121.3L496.31 115.5L502.11 115.5Z" fill="#fff" stroke="#000" stroke-width="1.1"/>
<path d="M552.4 127.9L549.51 122.1L555.3 122.1Z" fill="#fff" stroke="#000" stroke-width="1.1"/>
<path d="M558.52 126.9L555.63 121.1L561.42 121.1Z" fill="#fff" stroke="#000" stroke-width="1.1"/>
<path d="M564.64 126.3L561.75 120.5L567.54 120.5Z" fill="#fff" stroke="#000" stroke-width="1.1"/>
<path d="M570.77 127.9L567.87 122.1L573.66 122.1Z" fill="#fff" stroke="#000" stroke-width="1.1"/>
<path d="M576.89 127.9L573.99 122.1L579.78 122.1Z" fill="#fff" stroke="#000" stroke-width="1.1"/>
<path d="M583.01 128.9L580.11 123.1L585.9 123.1Z" fill="#fff" stroke="#000" stroke-width="1.1"/>
<path d="M589.13 128.9L586.23 123.1L592.02 123.1Z" fill="#fff" stroke="#000" stroke-width="1.1"/>
<path d="M595.25 131.1L592.35 125.3L598.14 125.3Z" fill="#fff" stroke="#000" stroke-width="1.1"/>
<path d="M601.37 131.4L598.47 125.6L604.27 125.6Z" fill="#fff" stroke="#000" stroke-width="1.1"/>
<path d="M607.49 134L604.59 128.2L610.39 128.2Z" fill="#fff" stroke="#000" stroke-width="1.1"/>
<path d="M613.61 136.9L610.71 131.1L616.51 131.1Z" fill="#fff" stroke="#000" stroke-width="1.1"/>
<path d="M644.21 152.3L641.31 146.5L647.11 146.5Z" fill="#fff" stroke="#000" stroke-width="1.1"/>
</g>
<path d="M391 4.5H387.62M391 37.5H387.62M391 70.5H387.62M391 103.5H387.62M391 136.5H387.62M391 169.5H387.62M391 202.5H387.62M391.1 202.5V205.88M448.3 202.5V205.88M505.5 202.5V205.88M562.7 202.5V205.88M619.9 202.5V205.88M677.1 202.5V205.88" stroke="#000" stroke-width="0.77" fill="none"/>
<path d="M391 11.1H389.07M391 17.7H389.07M391 24.3H389.07M391 30.9H389.07M391 44.1H389.07M391 50.7H389.07M391 57.3H389.07M391 63.9H389.07M391 77.1H389.07M391 83.7H389.07M391 90.3H389.07M391 96.9H389.07M391 110.1H389.07M391 116.7H389.07M391 123.3H389.07M391 129.9H389.07M391 143.1H389.07M391 149.7H389.07M391 156.3H389.07M391 162.9H389.07M391 176.1H389.07M391 182.7H389.07M391 189.3H389.07M391 195.9H389.07M405.4 202.5V204.43M419.7 202.5V204.43M434 202.5V204.43M462.6 202.5V204.43M476.9 202.5V204.43M491.2 202.5V204.43M519.8 202.5V204.43M534.1 202.5V204.43M548.4 202.5V204.43M577 202.5V204.43M591.3 202.5V204.43M605.6 202.5V204.43M634.2 202.5V204.43M648.5 202.5V204.43M662.8 202.5V204.43" stroke="#000" stroke-width="0.58" fill="none"/>
<text x="384.24" y="8.35" font-size="10.2" text-anchor="end" font-family='"Liberation Sans", sans-serif' fill="#000" textLength="23.46" lengthAdjust="spacingAndGlyphs">−2.0</text>
<text x="384.24" y="41.35" font-size="10.2" text-anchor="end" font-family='"Liberation Sans", sans-serif' fill="#000" textLength="23.46" lengthAdjust="spacingAndGlyphs">−1.5</text>
<text x="384.24" y="74.35" font-size="10.2" text-anchor="end" font-family='"Liberation Sans", sans-serif' fill="#000" textLength="23.46" lengthAdjust="spacingAndGlyphs">−1.0</text>
<text x="384.24" y="107.35" font-size="10.2" text-anchor="end" font-family='"Liberation Sans", sans-serif' fill="#000" textLength="23.46" lengthAdjust="spacingAndGlyphs">−0.5</text>
<text x="384.24" y="140.35" font-size="10.2" text-anchor="end" font-family='"Liberation Sans", sans-serif' fill="#000" textLength="15.36" lengthAdjust="spacingAndGlyphs">0.0</text>
<text x="384.24" y="173.35" font-size="10.2" text-anchor="end" font-family='"Liberation Sans", sans-serif' fill="#000" textLength="15.36" lengthAdjust="spacingAndGlyphs">0.5</text>
<text x="384.24" y="206.35" font-size="10.2" text-anchor="end" font-family='"Liberation Sans", sans-serif' fill="#000" textLength="15.36" lengthAdjust="spacingAndGlyphs">1.0</text>
<text x="391.1" y="216.2" font-size="10.2" text-anchor="middle" font-family='"Liberation Sans", sans-serif' fill="#000" textLength="15.36" lengthAdjust="spacingAndGlyphs">0.0</text>
<text x="448.3" y="216.2" font-size="10.2" text-anchor="middle" font-family='"Liberation Sans", sans-serif' fill="#000" textLength="15.36" lengthAdjust="spacingAndGlyphs">0.2</text>
<text x="505.5" y="216.2" font-size="10.2" text-anchor="middle" font-family='"Liberation Sans", sans-serif' fill="#000" textLength="15.36" lengthAdjust="spacingAndGlyphs">0.4</text>
<text x="562.7" y="216.2" font-size="10.2" text-anchor="middle" font-family='"Liberation Sans", sans-serif' fill="#000" textLength="15.36" lengthAdjust="spacingAndGlyphs">0.6</text>
<text x="619.9" y="216.2" font-size="10.2" text-anchor="middle" font-family='"Liberation Sans", sans-serif' fill="#000" textLength="15.36" lengthAdjust="spacingAndGlyphs">0.8</text>
<text x="677.1" y="216.2" font-size="10.2" text-anchor="middle" font-family='"Liberation Sans", sans-serif' fill="#000" textLength="15.36" lengthAdjust="spacingAndGlyphs">1.0</text>
<text x="534.5" y="230.3" font-size="11.22" text-anchor="middle" font-family='"Liberation Sans", sans-serif' fill="#000" textLength="135.25" lengthAdjust="spacingAndGlyphs">Normalized Chord Length</text>
<g transform="translate(353.1 103.5) rotate(-90)">
<text x="-5.6" y="0" font-size="11.22" font-family='"Liberation Sans", sans-serif' font-style="italic" textLength="7.42" lengthAdjust="spacingAndGlyphs">C</text>
<text x="2.0" y="0.9" font-size="7.85" font-family='"Liberation Sans", sans-serif' font-style="italic">p</text>
</g>
<circle cx="405.3" cy="20.25" r="7.45" fill="none" stroke="#000" stroke-width="0.9"/>
<text x="405.4" y="23.25" font-size="10.2" text-anchor="middle" font-family='"Liberation Sans", sans-serif' fill="#000" textLength="6.15" lengthAdjust="spacingAndGlyphs">2</text>
<rect x="446.25" y="165.3" width="161.3" height="34.0" fill="#d6ebf2" stroke="#000" stroke-opacity="0.5" stroke-width="1"/>
<text x="447.95" y="173.9" font-size="10" font-family='"Liberation Mono", monospace' fill="#000" xml:space="preserve" textLength="145.39" lengthAdjust="spacingAndGlyphs">RH Wing Part Shear Forces</text>
<text x="447.95" y="184.85" font-size="10" font-family='"Liberation Mono", monospace' fill="#000" xml:space="preserve" textLength="104.68" lengthAdjust="spacingAndGlyphs">FZ SG:       -87 N</text>
<rect x="459.58" y="186.7" width="5.82" height="0.55" fill="#000" fill-opacity="0.8"/>
<text x="447.95" y="195.8" font-size="10" font-family='"Liberation Mono", monospace' fill="#000" xml:space="preserve" textLength="104.68" lengthAdjust="spacingAndGlyphs">FZ MEMS:    -588 N</text>
<rect x="459.58" y="197.65" width="5.82" height="0.55" fill="#000" fill-opacity="0.8"/>
<path d="M391 4.5H677.2" stroke="#000" stroke-width="0.72" fill="none" stroke-linecap="square"/>
<path d="M391 202.25H677.2" stroke="#000" stroke-width="0.85" fill="none" stroke-linecap="square"/>
<path d="M391 4.5V202.5M677.2 4.5V202.5" stroke="#000" stroke-width="0.88" fill="none" stroke-linecap="square"/>
<clipPath id="c2"><rect x="47.5" y="241.5" width="286" height="198"/></clipPath>
<g clip-path="url(#c2)">
<path d="M47.5 439.5 L47.63 437.68 L47.75 435.84 L47.88 434 L48 432.16 L48.13 430.34 L48.25 428.53 L48.38 426.75 L48.5 425 L48.61 423.45 L48.73 421.93 L48.84 420.44 L48.95 418.96 L49.07 417.49 L49.18 416.01 L49.29 414.52 L49.4 413 L49.51 411.4 L49.63 409.77 L49.74 408.14 L49.86 406.5 L49.97 404.86 L50.08 403.23 L50.19 401.6 L50.3 400 L50.4 398.48 L50.51 396.99 L50.61 395.51 L50.71 394.03 L50.81 392.55 L50.91 391.05 L51.01 389.54 L51.1 388 L51.2 386.3 L51.29 384.58 L51.38 382.84 L51.46 381.09 L51.55 379.32 L51.63 377.55 L51.71 375.77 L51.8 374 L51.88 372.19 L51.96 370.37 L52.03 368.56 L52.1 366.73 L52.18 364.9 L52.27 363.05 L52.37 361.19 L52.5 359.3 L52.66 357.23 L52.85 355.11 L53.06 352.96 L53.27 350.8 L53.5 348.64 L53.74 346.51 L53.97 344.43 L54.2 342.4 L54.4 340.62 L54.6 338.84 L54.79 337.07 L54.99 335.33 L55.2 333.63 L55.42 332 L55.65 330.45 L55.9 329 L56.09 328 L56.27 327.06 L56.46 326.15 L56.65 325.27 L56.86 324.43 L57.08 323.61 L57.33 322.8 L57.6 322 L57.86 321.3 L58.14 320.62 L58.43 319.96 L58.74 319.31 L59.06 318.68 L59.39 318.05 L59.74 317.43 L60.1 316.8 L60.47 316.15 L60.86 315.5 L61.26 314.84 L61.67 314.19 L62.09 313.56 L62.54 312.97 L63.01 312.41 L63.5 311.9 L63.96 311.48 L64.43 311.1 L64.91 310.75 L65.41 310.43 L65.93 310.13 L66.49 309.84 L67.07 309.57 L67.7 309.3 L68.64 308.96 L69.69 308.66 L70.82 308.4 L71.99 308.16 L73.18 307.93 L74.35 307.72 L75.47 307.51 L76.5 307.3 L77.27 307.13 L78 306.97 L78.71 306.81 L79.4 306.66 L80.09 306.51 L80.78 306.37 L81.48 306.23 L82.2 306.1 L82.97 305.97 L83.75 305.85 L84.52 305.74 L85.31 305.63 L86.1 305.53 L86.92 305.42 L87.75 305.32 L88.6 305.2 L89.64 305.05 L90.73 304.89 L91.84 304.73 L92.97 304.56 L94.11 304.4 L95.25 304.25 L96.39 304.11 L97.5 304 L98.56 303.91 L99.6 303.84 L100.63 303.78 L101.67 303.73 L102.71 303.7 L103.78 303.66 L104.87 303.63 L106 303.6 L107.4 303.57 L108.85 303.54 L110.34 303.52 L111.86 303.5 L113.39 303.49 L114.93 303.49 L116.47 303.49 L118 303.5 L119.55 303.52 L121.11 303.54 L122.67 303.57 L124.23 303.61 L125.8 303.66 L127.37 303.7 L128.94 303.75 L130.5 303.8 L132.07 303.85 L133.66 303.9 L135.25 303.95 L136.83 304.01 L138.41 304.07 L139.97 304.14 L141.5 304.22 L143 304.3 L144.32 304.38 L145.62 304.48 L146.9 304.57 L148.16 304.68 L149.41 304.78 L150.65 304.89 L151.88 304.99 L153.1 305.1 L154.23 305.19 L155.35 305.28 L156.45 305.37 L157.54 305.46 L158.63 305.55 L159.72 305.66 L160.81 305.77 L161.9 305.9 L163.01 306.04 L164.13 306.18 L165.26 306.33 L166.39 306.49 L167.5 306.66 L168.58 306.85 L169.62 307.07 L170.6 307.3 L171.34 307.51 L172.01 307.74 L172.65 307.99 L173.27 308.25 L173.9 308.51 L174.57 308.78 L175.29 309.04 L176.1 309.3 L177.57 309.69 L179.25 310.08 L181.08 310.46 L182.99 310.85 L184.92 311.25 L186.83 311.67 L188.64 312.12 L190.3 312.6 L191.55 313.03 L192.74 313.47 L193.88 313.94 L195 314.41 L196.09 314.9 L197.2 315.4 L198.33 315.9 L199.5 316.4 L200.82 316.95 L202.17 317.52 L203.54 318.1 L204.91 318.69 L206.3 319.27 L207.68 319.86 L209.05 320.43 L210.4 321 L211.71 321.54 L213.03 322.07 L214.36 322.59 L215.68 323.11 L216.98 323.63 L218.24 324.15 L219.45 324.68 L220.6 325.2 L221.47 325.62 L222.3 326.04 L223.09 326.47 L223.86 326.89 L224.62 327.31 L225.37 327.74 L226.13 328.17 L226.9 328.6 L227.68 329.04 L228.47 329.48 L229.26 329.92 L230.05 330.36 L230.83 330.81 L231.6 331.27 L232.36 331.73 L233.1 332.2 L233.79 332.66 L234.46 333.12 L235.11 333.58 L235.76 334.05 L236.4 334.53 L237.05 335.02 L237.72 335.51 L238.4 336 L239.17 336.56 L239.96 337.13 L240.76 337.71 L241.57 338.3 L242.38 338.89 L243.19 339.47 L244 340.04 L244.8 340.6 L245.57 341.12 L246.33 341.62 L247.1 342.11 L247.86 342.6 L248.63 343.09 L249.39 343.58 L250.15 344.08 L250.9 344.6 L251.66 345.14 L252.42 345.69 L253.17 346.26 L253.92 346.82 L254.67 347.39 L255.42 347.97 L256.16 348.53 L256.9 349.1 L257.62 349.65 L258.34 350.2 L259.05 350.74 L259.76 351.29 L260.47 351.84 L261.17 352.39 L261.89 352.94 L262.6 353.5 L263.33 354.08 L264.06 354.68 L264.79 355.28 L265.52 355.89 L266.25 356.49 L266.99 357.07 L267.74 357.65 L268.5 358.2 L269.27 358.72 L270.04 359.23 L270.83 359.72 L271.62 360.2 L272.42 360.67 L273.21 361.14 L274.01 361.62 L274.8 362.1 L275.59 362.59 L276.38 363.09 L277.17 363.59 L277.96 364.09 L278.75 364.58 L279.54 365.07 L280.32 365.54 L281.1 366 L281.83 366.42 L282.56 366.82 L283.28 367.22 L284.01 367.61 L284.73 367.99 L285.45 368.36 L286.17 368.73 L286.9 369.1 L287.61 369.46 L288.32 369.81 L289.02 370.16 L289.73 370.5 L290.44 370.84 L291.16 371.17 L291.87 371.49 L292.6 371.8 L293.34 372.1 L294.08 372.39 L294.83 372.68 L295.58 372.95 L296.33 373.22 L297.09 373.48 L297.84 373.74 L298.6 374 L299.36 374.25 L300.12 374.49 L300.89 374.72 L301.66 374.95 L302.43 375.17 L303.19 375.41 L303.95 375.65 L304.7 375.9 L305.43 376.16 L306.15 376.42 L306.86 376.68 L307.58 376.95 L308.28 377.23 L308.99 377.51 L309.7 377.8 L310.4 378.1 L311.11 378.41 L311.81 378.73 L312.51 379.06 L313.2 379.4 L313.9 379.74 L314.6 380.09 L315.3 380.44 L316 380.8 L316.74 381.18 L317.48 381.56 L318.22 381.95 L318.96 382.35 L319.7 382.75 L320.44 383.16 L321.18 383.58 L321.9 384 L322.61 384.43 L323.32 384.86 L324.02 385.3 L324.71 385.74 L325.41 386.19 L326.1 386.65 L326.8 387.12 L327.5 387.6 L328.25 388.12 L328.99 388.66 L329.74 389.21 L330.49 389.76 L331.25 390.32 L332 390.89 L332.75 391.45 L333.5 392" fill="none" stroke="#000" stroke-width="1.2" stroke-dasharray="3.57 1.55"/>
<path d="M47.5 439.5 L47.53 439.22 L47.57 438.96 L47.6 438.7 L47.63 438.43 L47.66 438.16 L47.7 437.87 L47.74 437.55 L47.8 437.2 L47.93 436.47 L48.08 435.64 L48.25 434.73 L48.45 433.75 L48.65 432.74 L48.87 431.69 L49.09 430.64 L49.3 429.6 L49.55 428.34 L49.81 427.03 L50.08 425.68 L50.35 424.3 L50.64 422.92 L50.94 421.55 L51.26 420.2 L51.6 418.9 L51.94 417.71 L52.29 416.53 L52.66 415.36 L53.04 414.21 L53.44 413.07 L53.85 411.94 L54.27 410.82 L54.7 409.7 L55.13 408.61 L55.58 407.51 L56.03 406.41 L56.5 405.32 L56.98 404.26 L57.48 403.23 L57.98 402.24 L58.5 401.3 L58.95 400.55 L59.4 399.83 L59.87 399.14 L60.35 398.48 L60.83 397.83 L61.31 397.21 L61.81 396.6 L62.3 396 L62.75 395.47 L63.2 394.96 L63.65 394.47 L64.1 393.99 L64.57 393.52 L65.04 393.06 L65.51 392.63 L66 392.2 L66.47 391.81 L66.94 391.43 L67.42 391.06 L67.9 390.71 L68.39 390.36 L68.91 390.03 L69.44 389.71 L70 389.4 L70.69 389.05 L71.41 388.72 L72.17 388.41 L72.95 388.11 L73.74 387.82 L74.53 387.54 L75.32 387.27 L76.1 387 L76.86 386.75 L77.62 386.5 L78.38 386.27 L79.14 386.04 L79.9 385.82 L80.67 385.61 L81.43 385.4 L82.2 385.2 L82.96 385.01 L83.72 384.83 L84.48 384.65 L85.25 384.48 L86.01 384.32 L86.77 384.15 L87.54 383.98 L88.3 383.8 L89.06 383.61 L89.82 383.42 L90.59 383.23 L91.35 383.03 L92.11 382.84 L92.87 382.65 L93.64 382.47 L94.4 382.3 L95.16 382.14 L95.92 382 L96.68 381.85 L97.44 381.72 L98.21 381.59 L98.97 381.46 L99.73 381.33 L100.5 381.2 L101.27 381.07 L102.05 380.94 L102.82 380.8 L103.6 380.67 L104.37 380.55 L105.15 380.43 L105.93 380.31 L106.7 380.2 L107.46 380.1 L108.23 380 L108.99 379.92 L109.75 379.83 L110.51 379.75 L111.28 379.67 L112.04 379.59 L112.8 379.5 L113.56 379.41 L114.32 379.32 L115.09 379.24 L115.85 379.15 L116.61 379.06 L117.38 378.98 L118.14 378.89 L118.9 378.8 L119.66 378.71 L120.42 378.62 L121.19 378.53 L121.95 378.44 L122.71 378.36 L123.47 378.27 L124.24 378.18 L125 378.1 L125.76 378.02 L126.52 377.94 L127.28 377.86 L128.04 377.78 L128.8 377.71 L129.56 377.63 L130.33 377.56 L131.1 377.5 L131.9 377.44 L132.71 377.38 L133.53 377.33 L134.35 377.28 L135.17 377.23 L135.98 377.19 L136.8 377.14 L137.6 377.1 L138.37 377.06 L139.14 377.02 L139.9 376.98 L140.66 376.94 L141.42 376.91 L142.18 376.87 L142.94 376.84 L143.7 376.8 L144.46 376.76 L145.22 376.72 L145.99 376.68 L146.75 376.64 L147.51 376.61 L148.27 376.57 L149.04 376.53 L149.8 376.5 L150.56 376.47 L151.31 376.44 L152.06 376.41 L152.8 376.38 L153.56 376.36 L154.34 376.34 L155.15 376.32 L156 376.3 L157.14 376.29 L158.33 376.28 L159.58 376.29 L160.85 376.29 L162.15 376.3 L163.44 376.31 L164.73 376.31 L166 376.3 L167.24 376.29 L168.46 376.27 L169.67 376.25 L170.89 376.23 L172.12 376.21 L173.37 376.18 L174.66 376.14 L176 376.1 L177.71 376.04 L179.54 375.97 L181.44 375.89 L183.37 375.8 L185.27 375.71 L187.11 375.61 L188.83 375.51 L190.4 375.4 L191.37 375.32 L192.26 375.24 L193.1 375.16 L193.9 375.07 L194.7 374.98 L195.51 374.89 L196.37 374.8 L197.3 374.7 L198.62 374.57 L200.05 374.43 L201.55 374.29 L203.09 374.14 L204.62 374 L206.1 373.86 L207.51 373.72 L208.8 373.6 L209.67 373.52 L210.49 373.43 L211.27 373.35 L212.02 373.28 L212.77 373.2 L213.5 373.13 L214.24 373.06 L215 373 L215.75 372.94 L216.5 372.88 L217.25 372.83 L218 372.78 L218.75 372.73 L219.49 372.69 L220.25 372.64 L221 372.6 L221.77 372.56 L222.54 372.52 L223.32 372.48 L224.1 372.44 L224.87 372.4 L225.65 372.37 L226.43 372.33 L227.2 372.3 L227.96 372.27 L228.73 372.24 L229.49 372.21 L230.25 372.19 L231.01 372.16 L231.78 372.14 L232.54 372.12 L233.3 372.1 L234.06 372.08 L234.82 372.06 L235.59 372.05 L236.35 372.03 L237.11 372.02 L237.87 372.01 L238.64 372 L239.4 372 L240.16 372 L240.92 372.01 L241.68 372.01 L242.44 372.03 L243.21 372.04 L243.97 372.06 L244.73 372.08 L245.5 372.1 L246.28 372.13 L247.07 372.16 L247.86 372.19 L248.65 372.23 L249.44 372.27 L250.23 372.31 L251.01 372.36 L251.8 372.4 L252.58 372.44 L253.36 372.49 L254.13 372.53 L254.91 372.57 L255.68 372.62 L256.46 372.68 L257.23 372.73 L258 372.8 L258.77 372.87 L259.53 372.94 L260.29 373.02 L261.05 373.1 L261.81 373.19 L262.58 373.28 L263.34 373.39 L264.1 373.5 L264.88 373.61 L265.66 373.72 L266.44 373.82 L267.22 373.94 L268 374.08 L268.78 374.24 L269.54 374.45 L270.3 374.7 L271.08 375.02 L271.86 375.39 L272.62 375.79 L273.38 376.23 L274.14 376.7 L274.89 377.19 L275.64 377.69 L276.4 378.2 L277.22 378.79 L278.03 379.41 L278.84 380.07 L279.65 380.75 L280.46 381.43 L281.29 382.11 L282.13 382.77 L283 383.4 L283.93 384.04 L284.88 384.68 L285.84 385.31 L286.82 385.93 L287.82 386.54 L288.83 387.12 L289.85 387.68 L290.9 388.2 L292 388.7 L293.13 389.17 L294.28 389.6 L295.45 390.01 L296.63 390.4 L297.81 390.8 L299.01 391.19 L300.2 391.6 L301.47 392.04 L302.78 392.5 L304.12 392.95 L305.45 393.41 L306.77 393.85 L308.05 394.26 L309.26 394.65 L310.4 395 L311.17 395.23 L311.91 395.46 L312.61 395.67 L313.29 395.87 L313.95 396.05 L314.62 396.22 L315.3 396.37 L316 396.5 L316.73 396.63 L317.46 396.74 L318.21 396.85 L318.95 396.94 L319.69 397.01 L320.44 397.04 L321.17 397.04 L321.9 397 L322.61 396.92 L323.32 396.8 L324.02 396.65 L324.72 396.48 L325.42 396.27 L326.11 396.04 L326.81 395.78 L327.5 395.5 L328.26 395.16 L329.01 394.76 L329.76 394.33 L330.51 393.87 L331.26 393.4 L332 392.92 L332.75 392.45 L333.5 392" fill="none" stroke="#000" stroke-width="1.2" stroke-dasharray="6.18 1.55 0.97 1.55"/>
<path d="M173.3 307.2L179.1 313M173.3 313L179.1 307.2M187.6 309.7L193.4 315.5M187.6 315.5L193.4 309.7M307.72 375.2L313.52 381M307.72 381L313.52 375.2M319.16 381.1L324.96 386.9M319.16 386.9L324.96 381.1M330.6 389.1L336.4 394.9M330.6 394.9L336.4 389.1M173.3 373.4L179.1 379.2M173.3 379.2L179.1 373.4M187.6 372.5L193.4 378.3M187.6 378.3L193.4 372.5M273.4 375.3L279.2 381.1M273.4 381.1L279.2 375.3M287.7 385.3L293.5 391.1M287.7 391.1L293.5 385.3M307.72 392.1L313.52 397.9M307.72 397.9L313.52 392.1M319.16 394.2L324.96 400M319.16 400L324.96 394.2M330.6 389.1L336.4 394.9M330.6 394.9L336.4 389.1" fill="none" stroke="#ff0000" stroke-width="1.3"/>
<path d="M59.66 316.1L56.76 321.9L62.55 321.9ZM70.67 307.7L67.77 313.5L73.56 313.5ZM76.39 306L73.49 311.8L79.28 311.8ZM82.39 303.4L79.49 309.2L85.29 309.2ZM94.4 300.9L91.51 306.7L97.3 306.7ZM105.99 300.9L103.09 306.7L108.88 306.7ZM112.42 300.9L109.52 306.7L115.32 306.7ZM118.43 300.5L115.53 306.3L121.33 306.3ZM124.58 301L121.68 306.8L127.47 306.8ZM130.73 301.1L127.83 306.9L133.62 306.9ZM137.02 300.9L134.12 306.7L139.92 306.7ZM143.02 301.1L140.13 306.9L145.92 306.9ZM149.17 303L146.28 308.8L152.07 308.8ZM214.24 319.8L211.34 325.6L217.14 325.6ZM220.67 322.3L217.78 328.1L223.57 328.1ZM226.68 326.1L223.78 331.9L229.58 331.9ZM232.69 329.6L229.79 335.4L235.58 335.4ZM244.55 338.1L241.66 343.9L247.45 343.9ZM250.85 341.1L247.95 346.9L253.74 346.9ZM256.85 346.6L253.95 352.4L259.75 352.4ZM268.52 355.7L265.62 361.5L271.42 361.5ZM274.76 359L271.86 364.8L277.65 364.8ZM280.82 363.6L277.92 369.4L283.72 369.4ZM286.31 366.2L283.41 372L289.21 372ZM292.32 369L289.42 374.8L295.21 374.8ZM298.18 371.3L295.28 377.1L301.08 377.1ZM304.04 372.1L301.14 377.9L306.94 377.9Z" fill="#000" stroke="#000" stroke-width="1.1" stroke-linejoin="miter"/>
<path d="M63.8 397.9L60.9 392.1L66.7 392.1Z" fill="#fff" stroke="#000" stroke-width="1.1"/>
<path d="M69.92 391.4L67.02 385.6L72.82 385.6Z" fill="#fff" stroke="#000" stroke-width="1.1"/>
<path d="M76.04 392L73.14 386.2L78.94 386.2Z" fill="#fff" stroke="#000" stroke-width="1.1"/>
<path d="M82.16 388.4L79.27 382.6L85.06 382.6Z" fill="#fff" stroke="#000" stroke-width="1.1"/>
<path d="M88.28 387.5L85.39 381.7L91.18 381.7Z" fill="#fff" stroke="#000" stroke-width="1.1"/>
<path d="M94.4 385.3L91.51 379.5L97.3 379.5Z" fill="#fff" stroke="#000" stroke-width="1.1"/>
<path d="M100.52 384.4L97.63 378.6L103.42 378.6Z" fill="#fff" stroke="#000" stroke-width="1.1"/>
<path d="M106.64 383.3L103.75 377.5L109.54 377.5Z" fill="#fff" stroke="#000" stroke-width="1.1"/>
<path d="M112.77 383.3L109.87 377.5L115.66 377.5Z" fill="#fff" stroke="#000" stroke-width="1.1"/>
<path d="M118.89 382.3L115.99 376.5L121.78 376.5Z" fill="#fff" stroke="#000" stroke-width="1.1"/>
<path d="M125.01 381L122.11 375.2L127.9 375.2Z" fill="#fff" stroke="#000" stroke-width="1.1"/>
<path d="M131.13 380.4L128.23 374.6L134.02 374.6Z" fill="#fff" stroke="#000" stroke-width="1.1"/>
<path d="M137.25 380.6L134.35 374.8L140.14 374.8Z" fill="#fff" stroke="#000" stroke-width="1.1"/>
<path d="M143.37 381.2L140.47 375.4L146.27 375.4Z" fill="#fff" stroke="#000" stroke-width="1.1"/>
<path d="M149.49 379.4L146.59 373.6L152.39 373.6Z" fill="#fff" stroke="#000" stroke-width="1.1"/>
<path d="M155.61 379.4L152.71 373.6L158.51 373.6Z" fill="#fff" stroke="#000" stroke-width="1.1"/>
<path d="M208.8 377.3L205.91 371.5L211.7 371.5Z" fill="#fff" stroke="#000" stroke-width="1.1"/>
<path d="M214.92 376.5L212.03 370.7L217.82 370.7Z" fill="#fff" stroke="#000" stroke-width="1.1"/>
<path d="M221.04 375.3L218.15 369.5L223.94 369.5Z" fill="#fff" stroke="#000" stroke-width="1.1"/>
<path d="M227.17 375.9L224.27 370.1L230.06 370.1Z" fill="#fff" stroke="#000" stroke-width="1.1"/>
<path d="M233.29 375.3L230.39 369.5L236.18 369.5Z" fill="#fff" stroke="#000" stroke-width="1.1"/>
<path d="M239.41 375.7L236.51 369.9L242.3 369.9Z" fill="#fff" stroke="#000" stroke-width="1.1"/>
<path d="M245.53 375.3L242.63 369.5L248.42 369.5Z" fill="#fff" stroke="#000" stroke-width="1.1"/>
<path d="M251.65 376.2L248.75 370.4L254.54 370.4Z" fill="#fff" stroke="#000" stroke-width="1.1"/>
<path d="M257.77 375L254.87 369.2L260.67 369.2Z" fill="#fff" stroke="#000" stroke-width="1.1"/>
<path d="M263.89 376.9L260.99 371.1L266.79 371.1Z" fill="#fff" stroke="#000" stroke-width="1.1"/>
<path d="M270.01 377.7L267.11 371.9L272.91 371.9Z" fill="#fff" stroke="#000" stroke-width="1.1"/>
<path d="M300.61 394.1L297.71 388.3L303.51 388.3Z" fill="#fff" stroke="#000" stroke-width="1.1"/>
</g>
<path d="M47.5 241.5H44.12M47.5 274.5H44.12M47.5 307.5H44.12M47.5 340.5H44.12M47.5 373.5H44.12M47.5 406.5H44.12M47.5 439.5H44.12M47.5 439.5V442.88M104.7 439.5V442.88M161.9 439.5V442.88M219.1 439.5V442.88M276.3 439.5V442.88M333.5 439.5V442.88" stroke="#000" stroke-width="0.77" fill="none"/>
<path d="M47.5 248.1H45.57M47.5 254.7H45.57M47.5 261.3H45.57M47.5 267.9H45.57M47.5 281.1H45.57M47.5 287.7H45.57M47.5 294.3H45.57M47.5 300.9H45.57M47.5 314.1H45.57M47.5 320.7H45.57M47.5 327.3H45.57M47.5 333.9H45.57M47.5 347.1H45.57M47.5 353.7H45.57M47.5 360.3H45.57M47.5 366.9H45.57M47.5 380.1H45.57M47.5 386.7H45.57M47.5 393.3H45.57M47.5 399.9H45.57M47.5 413.1H45.57M47.5 419.7H45.57M47.5 426.3H45.57M47.5 432.9H45.57M61.8 439.5V441.43M76.1 439.5V441.43M90.4 439.5V441.43M119 439.5V441.43M133.3 439.5V441.43M147.6 439.5V441.43M176.2 439.5V441.43M190.5 439.5V441.43M204.8 439.5V441.43M233.4 439.5V441.43M247.7 439.5V441.43M262 439.5V441.43M290.6 439.5V441.43M304.9 439.5V441.43M319.2 439.5V441.43" stroke="#000" stroke-width="0.58" fill="none"/>
<text x="40.74" y="245.35" font-size="10.2" text-anchor="end" font-family='"Liberation Sans", sans-serif' fill="#000" textLength="23.46" lengthAdjust="spacingAndGlyphs">−2.0</text>
<text x="40.74" y="278.35" font-size="10.2" text-anchor="end" font-family='"Liberation Sans", sans-serif' fill="#000" textLength="23.46" lengthAdjust="spacingAndGlyphs">−1.5</text>
<text x="40.74" y="311.35" font-size="10.2" text-anchor="end" font-family='"Liberation Sans", sans-serif' fill="#000" textLength="23.46" lengthAdjust="spacingAndGlyphs">−1.0</text>
<text x="40.74" y="344.35" font-size="10.2" text-anchor="end" font-family='"Liberation Sans", sans-serif' fill="#000" textLength="23.46" lengthAdjust="spacingAndGlyphs">−0.5</text>
<text x="40.74" y="377.35" font-size="10.2" text-anchor="end" font-family='"Liberation Sans", sans-serif' fill="#000" textLength="15.36" lengthAdjust="spacingAndGlyphs">0.0</text>
<text x="40.74" y="410.35" font-size="10.2" text-anchor="end" font-family='"Liberation Sans", sans-serif' fill="#000" textLength="15.36" lengthAdjust="spacingAndGlyphs">0.5</text>
<text x="40.74" y="443.35" font-size="10.2" text-anchor="end" font-family='"Liberation Sans", sans-serif' fill="#000" textLength="15.36" lengthAdjust="spacingAndGlyphs">1.0</text>
<text x="47.5" y="453.2" font-size="10.2" text-anchor="middle" font-family='"Liberation Sans", sans-serif' fill="#000" textLength="15.36" lengthAdjust="spacingAndGlyphs">0.0</text>
<text x="104.7" y="453.2" font-size="10.2" text-anchor="middle" font-family='"Liberation Sans", sans-serif' fill="#000" textLength="15.36" lengthAdjust="spacingAndGlyphs">0.2</text>
<text x="161.9" y="453.2" font-size="10.2" text-anchor="middle" font-family='"Liberation Sans", sans-serif' fill="#000" textLength="15.36" lengthAdjust="spacingAndGlyphs">0.4</text>
<text x="219.1" y="453.2" font-size="10.2" text-anchor="middle" font-family='"Liberation Sans", sans-serif' fill="#000" textLength="15.36" lengthAdjust="spacingAndGlyphs">0.6</text>
<text x="276.3" y="453.2" font-size="10.2" text-anchor="middle" font-family='"Liberation Sans", sans-serif' fill="#000" textLength="15.36" lengthAdjust="spacingAndGlyphs">0.8</text>
<text x="333.5" y="453.2" font-size="10.2" text-anchor="middle" font-family='"Liberation Sans", sans-serif' fill="#000" textLength="15.36" lengthAdjust="spacingAndGlyphs">1.0</text>
<text x="190.5" y="467.3" font-size="11.22" text-anchor="middle" font-family='"Liberation Sans", sans-serif' fill="#000" textLength="135.25" lengthAdjust="spacingAndGlyphs">Normalized Chord Length</text>
<g transform="translate(9.1 340.5) rotate(-90)">
<text x="-5.6" y="0" font-size="11.22" font-family='"Liberation Sans", sans-serif' font-style="italic" textLength="7.42" lengthAdjust="spacingAndGlyphs">C</text>
<text x="2.0" y="0.9" font-size="7.85" font-family='"Liberation Sans", sans-serif' font-style="italic">p</text>
</g>
<circle cx="61.7" cy="257.45" r="7.45" fill="none" stroke="#000" stroke-width="0.9"/>
<text x="61.8" y="260.45" font-size="10.2" text-anchor="middle" font-family='"Liberation Sans", sans-serif' fill="#000" textLength="6.15" lengthAdjust="spacingAndGlyphs">3</text>
<rect x="102.65" y="402.3" width="161.3" height="34.0" fill="#d6ebf2" stroke="#000" stroke-opacity="0.5" stroke-width="1"/>
<text x="104.35" y="410.9" font-size="10" font-family='"Liberation Mono", monospace' fill="#000" xml:space="preserve" textLength="145.39" lengthAdjust="spacingAndGlyphs">RH Wing Part Shear Forces</text>
<text x="104.35" y="421.85" font-size="10" font-family='"Liberation Mono", monospace' fill="#000" xml:space="preserve" textLength="104.68" lengthAdjust="spacingAndGlyphs">FZ SG:     -6703 N</text>
<rect x="115.98" y="423.7" width="5.82" height="0.55" fill="#000" fill-opacity="0.8"/>
<text x="104.35" y="432.8" font-size="10" font-family='"Liberation Mono", monospace' fill="#000" xml:space="preserve" textLength="104.68" lengthAdjust="spacingAndGlyphs">FZ MEMS:   -6127 N</text>
<rect x="115.98" y="434.65" width="5.82" height="0.55" fill="#000" fill-opacity="0.8"/>
<path d="M47.5 241.8H333.5" stroke="#000" stroke-width="0.85" fill="none" stroke-linecap="square"/>
<path d="M47.5 439.5H333.5" stroke="#000" stroke-width="0.72" fill="none" stroke-linecap="square"/>
<path d="M47.5 241.5V439.5M333.5 241.5V439.5" stroke="#000" stroke-width="0.72" fill="none" stroke-linecap="square"/>
<clipPath id="c3"><rect x="391.5" y="241.5" width="286" height="198"/></clipPath>
<g clip-path="url(#c3)">
<path d="M391.5 439.5 L391.57 439.14 L391.64 438.79 L391.71 438.44 L391.78 438.09 L391.85 437.74 L391.92 437.36 L392.01 436.95 L392.1 436.5 L392.28 435.65 L392.49 434.68 L392.71 433.64 L392.95 432.53 L393.21 431.39 L393.47 430.24 L393.73 429.1 L394 428 L394.28 426.88 L394.56 425.74 L394.86 424.58 L395.16 423.43 L395.46 422.29 L395.77 421.18 L396.09 420.11 L396.4 419.1 L396.65 418.33 L396.91 417.59 L397.16 416.87 L397.42 416.18 L397.68 415.5 L397.95 414.83 L398.22 414.17 L398.5 413.5 L398.77 412.88 L399.06 412.26 L399.35 411.65 L399.64 411.05 L399.94 410.46 L400.23 409.87 L400.52 409.28 L400.8 408.7 L401.06 408.16 L401.31 407.64 L401.56 407.12 L401.81 406.6 L402.05 406.09 L402.3 405.57 L402.55 405.04 L402.8 404.5 L403.07 403.91 L403.32 403.31 L403.58 402.7 L403.84 402.09 L404.1 401.47 L404.38 400.85 L404.68 400.22 L405 399.6 L405.39 398.91 L405.8 398.23 L406.23 397.55 L406.69 396.87 L407.15 396.17 L407.63 395.45 L408.11 394.69 L408.6 393.9 L409.24 392.78 L409.91 391.57 L410.59 390.3 L411.28 388.99 L411.99 387.68 L412.72 386.39 L413.45 385.15 L414.2 384 L414.88 383.04 L415.57 382.12 L416.27 381.23 L416.98 380.36 L417.7 379.51 L418.43 378.67 L419.16 377.84 L419.9 377 L420.62 376.18 L421.33 375.37 L422.03 374.57 L422.75 373.78 L423.49 372.99 L424.27 372.2 L425.1 371.41 L426 370.6 L427.27 369.53 L428.66 368.42 L430.13 367.3 L431.67 366.18 L433.25 365.07 L434.85 363.99 L436.44 362.96 L438 362 L439.47 361.14 L440.95 360.33 L442.44 359.56 L443.94 358.83 L445.45 358.11 L446.96 357.4 L448.48 356.7 L450 356 L451.54 355.29 L453.1 354.59 L454.66 353.9 L456.23 353.22 L457.8 352.55 L459.37 351.89 L460.94 351.24 L462.5 350.6 L464.02 349.99 L465.53 349.38 L467.04 348.78 L468.55 348.19 L470.06 347.62 L471.57 347.06 L473.08 346.52 L474.6 346 L476.09 345.51 L477.57 345.03 L479.06 344.57 L480.54 344.12 L482.04 343.69 L483.54 343.28 L485.06 342.88 L486.6 342.5 L488.25 342.12 L489.93 341.76 L491.64 341.42 L493.36 341.1 L495.08 340.8 L496.76 340.51 L498.41 340.25 L500 340 L501.32 339.8 L502.6 339.63 L503.86 339.46 L505.1 339.31 L506.33 339.18 L507.55 339.05 L508.77 338.92 L510 338.8 L511.2 338.69 L512.37 338.59 L513.53 338.5 L514.69 338.42 L515.87 338.34 L517.07 338.26 L518.31 338.18 L519.6 338.1 L521.26 337.99 L523.03 337.87 L524.86 337.74 L526.72 337.62 L528.58 337.5 L530.4 337.41 L532.15 337.34 L533.8 337.3 L535.04 337.29 L536.22 337.3 L537.37 337.32 L538.48 337.35 L539.59 337.4 L540.7 337.46 L541.83 337.52 L543 337.6 L544.3 337.69 L545.61 337.79 L546.95 337.91 L548.29 338.03 L549.64 338.17 L550.99 338.33 L552.35 338.5 L553.7 338.7 L555.1 338.93 L556.51 339.18 L557.92 339.45 L559.33 339.74 L560.75 340.04 L562.17 340.35 L563.58 340.67 L565 341 L566.47 341.34 L567.98 341.69 L569.52 342.06 L571.04 342.43 L572.53 342.82 L573.96 343.21 L575.29 343.6 L576.5 344 L577.24 344.27 L577.91 344.54 L578.52 344.81 L579.11 345.08 L579.7 345.36 L580.31 345.65 L580.97 345.96 L581.7 346.3 L582.96 346.85 L584.37 347.44 L585.89 348.08 L587.47 348.75 L589.05 349.44 L590.6 350.15 L592.06 350.87 L593.4 351.6 L594.4 352.22 L595.34 352.85 L596.22 353.49 L597.08 354.15 L597.93 354.81 L598.78 355.48 L599.67 356.14 L600.6 356.8 L601.68 357.53 L602.79 358.28 L603.92 359.03 L605.07 359.78 L606.23 360.52 L607.39 361.24 L608.55 361.94 L609.7 362.6 L610.8 363.2 L611.92 363.76 L613.04 364.31 L614.17 364.84 L615.28 365.36 L616.36 365.88 L617.41 366.39 L618.4 366.9 L619.17 367.33 L619.91 367.76 L620.62 368.18 L621.31 368.61 L622 369.02 L622.68 369.43 L623.38 369.82 L624.1 370.2 L624.84 370.56 L625.58 370.9 L626.34 371.23 L627.1 371.55 L627.86 371.86 L628.61 372.17 L629.36 372.48 L630.1 372.8 L630.8 373.11 L631.48 373.42 L632.16 373.72 L632.84 374.03 L633.51 374.33 L634.2 374.63 L634.89 374.92 L635.6 375.2 L636.36 375.49 L637.14 375.78 L637.93 376.06 L638.73 376.34 L639.53 376.6 L640.32 376.85 L641.12 377.09 L641.9 377.3 L642.63 377.48 L643.35 377.64 L644.07 377.78 L644.79 377.91 L645.51 378.03 L646.24 378.15 L646.96 378.27 L647.7 378.4 L648.48 378.53 L649.26 378.64 L650.05 378.75 L650.85 378.85 L651.64 378.96 L652.44 379.09 L653.22 379.23 L654 379.4 L654.76 379.59 L655.52 379.8 L656.28 380.02 L657.03 380.25 L657.77 380.5 L658.52 380.76 L659.26 381.02 L660 381.3 L660.75 381.59 L661.5 381.88 L662.24 382.18 L662.99 382.49 L663.72 382.82 L664.46 383.16 L665.18 383.52 L665.9 383.9 L666.62 384.31 L667.33 384.73 L668.03 385.18 L668.73 385.64 L669.42 386.11 L670.11 386.6 L670.8 387.09 L671.5 387.6 L672.25 388.16 L673 388.74 L673.75 389.34 L674.5 389.95 L675.25 390.56 L676 391.18 L676.75 391.79 L677.5 392.4" fill="none" stroke="#000" stroke-width="1.2" stroke-dasharray="3.57 1.55"/>
<path d="M391.5 439.5 L391.58 439.14 L391.65 438.79 L391.73 438.46 L391.81 438.12 L391.88 437.76 L391.96 437.38 L392.03 436.96 L392.1 436.5 L392.23 435.5 L392.35 434.36 L392.47 433.1 L392.58 431.74 L392.69 430.32 L392.79 428.88 L392.9 427.43 L393 426 L393.11 424.38 L393.22 422.72 L393.32 421.03 L393.42 419.32 L393.51 417.58 L393.61 415.81 L393.7 414.01 L393.8 412.2 L393.91 410.12 L394.03 407.98 L394.14 405.8 L394.25 403.59 L394.37 401.37 L394.48 399.16 L394.59 396.96 L394.7 394.8 L394.8 392.7 L394.9 390.57 L395 388.44 L395.1 386.32 L395.2 384.24 L395.3 382.22 L395.4 380.3 L395.5 378.5 L395.57 377.24 L395.65 376.04 L395.72 374.88 L395.79 373.76 L395.87 372.67 L395.94 371.61 L396.02 370.55 L396.1 369.5 L396.17 368.59 L396.23 367.7 L396.29 366.83 L396.35 365.97 L396.42 365.12 L396.5 364.26 L396.59 363.39 L396.7 362.5 L396.84 361.52 L396.99 360.53 L397.16 359.53 L397.34 358.53 L397.53 357.52 L397.72 356.51 L397.91 355.5 L398.1 354.5 L398.29 353.51 L398.49 352.52 L398.69 351.54 L398.89 350.55 L399.1 349.56 L399.3 348.58 L399.5 347.59 L399.7 346.6 L399.89 345.6 L400.08 344.59 L400.26 343.58 L400.45 342.58 L400.63 341.57 L400.81 340.57 L401 339.58 L401.2 338.6 L401.38 337.66 L401.56 336.71 L401.73 335.76 L401.91 334.82 L402.1 333.9 L402.31 333.02 L402.54 332.18 L402.8 331.4 L403.02 330.83 L403.25 330.29 L403.5 329.78 L403.76 329.29 L404.03 328.81 L404.31 328.36 L404.6 327.92 L404.9 327.5 L405.18 327.12 L405.47 326.73 L405.77 326.34 L406.08 325.98 L406.4 325.65 L406.72 325.36 L407.06 325.14 L407.4 325 L407.7 324.94 L408.02 324.94 L408.34 324.99 L408.67 325.07 L409 325.18 L409.33 325.31 L409.66 325.45 L410 325.6 L410.42 325.81 L410.83 326.07 L411.24 326.36 L411.66 326.68 L412.09 327.01 L412.53 327.35 L413 327.68 L413.5 328 L414.19 328.39 L414.94 328.79 L415.72 329.19 L416.53 329.59 L417.35 329.99 L418.18 330.4 L419 330.8 L419.8 331.2 L420.58 331.6 L421.36 332 L422.13 332.4 L422.91 332.8 L423.69 333.2 L424.46 333.6 L425.23 334 L426 334.4 L426.75 334.8 L427.5 335.22 L428.24 335.63 L428.99 336.05 L429.73 336.46 L430.48 336.85 L431.24 337.24 L432 337.6 L432.77 337.94 L433.56 338.27 L434.35 338.58 L435.15 338.88 L435.94 339.17 L436.74 339.45 L437.52 339.73 L438.3 340 L439.02 340.25 L439.73 340.49 L440.44 340.72 L441.15 340.94 L441.85 341.16 L442.56 341.38 L443.28 341.59 L444 341.8 L444.76 342.01 L445.52 342.22 L446.29 342.43 L447.07 342.63 L447.84 342.83 L448.63 343.02 L449.41 343.21 L450.2 343.4 L451.02 343.59 L451.84 343.77 L452.67 343.95 L453.5 344.12 L454.33 344.29 L455.16 344.46 L455.99 344.63 L456.8 344.8 L457.57 344.97 L458.34 345.13 L459.11 345.3 L459.87 345.46 L460.63 345.63 L461.39 345.79 L462.14 345.95 L462.9 346.1 L463.64 346.25 L464.38 346.39 L465.11 346.53 L465.85 346.67 L466.58 346.8 L467.32 346.94 L468.06 347.07 L468.8 347.2 L469.57 347.33 L470.34 347.46 L471.12 347.58 L471.9 347.71 L472.68 347.83 L473.45 347.95 L474.23 348.08 L475 348.2 L475.75 348.32 L476.51 348.44 L477.26 348.57 L478 348.69 L478.75 348.81 L479.5 348.94 L480.25 349.07 L481 349.2 L481.76 349.34 L482.52 349.49 L483.28 349.65 L484.04 349.81 L484.81 349.96 L485.57 350.12 L486.33 350.26 L487.1 350.4 L487.87 350.53 L488.64 350.65 L489.41 350.76 L490.19 350.87 L490.96 350.98 L491.74 351.08 L492.52 351.19 L493.3 351.3 L494.09 351.41 L494.86 351.51 L495.63 351.6 L496.4 351.7 L497.19 351.81 L498 351.92 L498.83 352.05 L499.7 352.2 L500.88 352.43 L502.11 352.68 L503.4 352.97 L504.72 353.27 L506.05 353.58 L507.39 353.89 L508.71 354.2 L510 354.5 L511.22 354.79 L512.42 355.09 L513.61 355.4 L514.8 355.71 L516 356 L517.22 356.29 L518.49 356.56 L519.8 356.8 L521.44 357.06 L523.18 357.28 L524.99 357.49 L526.82 357.68 L528.65 357.85 L530.44 358.01 L532.17 358.16 L533.8 358.3 L535.04 358.41 L536.23 358.52 L537.39 358.61 L538.52 358.7 L539.63 358.79 L540.74 358.86 L541.86 358.93 L543 359 L544.17 359.06 L545.37 359.11 L546.58 359.16 L547.78 359.21 L548.97 359.24 L550.13 359.27 L551.24 359.29 L552.3 359.3 L553.09 359.3 L553.84 359.3 L554.57 359.28 L555.28 359.27 L555.97 359.25 L556.67 359.23 L557.38 359.21 L558.1 359.2 L558.86 359.18 L559.61 359.16 L560.38 359.13 L561.14 359.11 L561.91 359.09 L562.67 359.08 L563.44 359.08 L564.2 359.1 L564.96 359.14 L565.72 359.2 L566.49 359.27 L567.25 359.36 L568.01 359.44 L568.77 359.53 L569.54 359.62 L570.3 359.7 L571.07 359.77 L571.84 359.84 L572.62 359.91 L573.39 359.98 L574.17 360.05 L574.94 360.12 L575.72 360.21 L576.5 360.3 L577.3 360.4 L578.1 360.51 L578.9 360.63 L579.71 360.76 L580.51 360.88 L581.31 361.02 L582.11 361.16 L582.9 361.3 L583.67 361.45 L584.44 361.6 L585.2 361.76 L585.96 361.92 L586.72 362.09 L587.48 362.26 L588.24 362.43 L589 362.6 L589.76 362.77 L590.52 362.94 L591.29 363.12 L592.05 363.29 L592.81 363.47 L593.57 363.65 L594.34 363.82 L595.1 364 L595.87 364.17 L596.65 364.34 L597.43 364.5 L598.2 364.67 L598.98 364.84 L599.76 365.02 L600.53 365.2 L601.3 365.4 L602.07 365.61 L602.84 365.81 L603.61 366.02 L604.38 366.24 L605.14 366.48 L605.9 366.73 L606.65 367 L607.4 367.3 L608.16 367.63 L608.9 367.98 L609.64 368.36 L610.38 368.75 L611.11 369.16 L611.84 369.59 L612.57 370.04 L613.3 370.5 L614.09 371.04 L614.86 371.64 L615.63 372.26 L616.4 372.9 L617.17 373.54 L617.96 374.17 L618.77 374.76 L619.6 375.3 L620.48 375.8 L621.38 376.26 L622.3 376.69 L623.24 377.1 L624.18 377.5 L625.13 377.9 L626.07 378.29 L627 378.7 L627.91 379.11 L628.8 379.5 L629.69 379.9 L630.59 380.29 L631.49 380.68 L632.4 381.08 L633.34 381.48 L634.3 381.9 L635.43 382.39 L636.6 382.89 L637.79 383.4 L639 383.92 L640.22 384.44 L641.45 384.96 L642.68 385.48 L643.9 386 L645.14 386.54 L646.38 387.09 L647.62 387.65 L648.86 388.21 L650.12 388.75 L651.39 389.27 L652.68 389.76 L654 390.2 L655.45 390.63 L656.98 391.04 L658.54 391.42 L660.11 391.77 L661.66 392.08 L663.17 392.36 L664.59 392.6 L665.9 392.8 L666.76 392.92 L667.57 393.01 L668.34 393.09 L669.09 393.15 L669.82 393.2 L670.54 393.22 L671.27 393.22 L672 393.2 L672.7 393.16 L673.4 393.08 L674.09 392.98 L674.77 392.87 L675.45 392.75 L676.13 392.63 L676.81 392.51 L677.5 392.4" fill="none" stroke="#000" stroke-width="1.2" stroke-dasharray="6.18 1.55 0.97 1.55"/>
<path d="M516.9 335.2L522.7 341M516.9 341L522.7 335.2M531.2 334.4L537 340.2M531.2 340.2L537 334.4M651.32 376.2L657.12 382M651.32 382L657.12 376.2M662.76 381L668.56 386.8M662.76 386.8L668.56 381M674.2 389.5L680 395.3M674.2 395.3L680 389.5M516.9 353.9L522.7 359.7M516.9 359.7L522.7 353.9M531.2 355.4L537 361.2M531.2 361.2L537 355.4M617 372.4L622.8 378.2M617 378.2L622.8 372.4M631.3 379L637.1 384.8M631.3 384.8L637.1 379M651.32 387.3L657.12 393.1M651.32 393.1L657.12 387.3M662.76 389.9L668.56 395.7M662.76 395.7L668.56 389.9M674.2 389.5L680 395.3M674.2 395.3L680 389.5" fill="none" stroke="#ff0000" stroke-width="1.3"/>
<path d="M403.25 401.4L400.36 407.2L406.15 407.2ZM414.27 380.6L411.37 386.4L417.16 386.4ZM419.99 373.6L417.09 379.4L422.88 379.4ZM425.99 367.1L423.09 372.9L428.89 372.9ZM438 359.1L435.11 364.9L440.9 364.9ZM449.59 352.7L446.69 358.5L452.49 358.5ZM456.02 350.4L453.12 356.2L458.92 356.2ZM462.03 347.8L459.13 353.6L464.93 353.6ZM468.18 345.1L465.28 350.9L471.08 350.9ZM474.33 341.9L471.43 347.7L477.22 347.7ZM480.62 341L477.72 346.8L483.52 346.8ZM486.62 338.1L483.73 343.9L489.52 343.9ZM492.77 338.4L489.88 344.2L495.67 344.2ZM557.84 336.7L554.94 342.5L560.74 342.5ZM564.27 338.1L561.38 343.9L567.17 343.9ZM570.28 341L567.38 346.8L573.18 346.8ZM576.29 341.9L573.39 347.7L579.18 347.7ZM588.15 343.7L585.26 349.5L591.05 349.5ZM594.45 352.1L591.55 357.9L597.34 357.9ZM600.45 355.9L597.55 361.7L603.35 361.7ZM612.12 361.9L609.22 367.7L615.02 367.7ZM618.36 363.1L615.46 368.9L621.25 368.9ZM624.42 368.2L621.52 374L627.32 374ZM629.91 369.5L627.01 375.3L632.81 375.3ZM635.92 372.7L633.02 378.5L638.81 378.5ZM641.78 374.6L638.88 380.4L644.68 380.4ZM647.64 375L644.74 380.8L650.54 380.8Z" fill="#000" stroke="#000" stroke-width="1.1" stroke-linejoin="miter"/>
<path d="M407.4 326.1L404.5 320.3L410.3 320.3Z" fill="#fff" stroke="#000" stroke-width="1.1"/>
<path d="M413.52 332.5L410.62 326.7L416.42 326.7Z" fill="#fff" stroke="#000" stroke-width="1.1"/>
<path d="M419.64 333.5L416.74 327.7L422.54 327.7Z" fill="#fff" stroke="#000" stroke-width="1.1"/>
<path d="M425.76 338.2L422.87 332.4L428.66 332.4Z" fill="#fff" stroke="#000" stroke-width="1.1"/>
<path d="M431.88 342.1L428.99 336.3L434.78 336.3Z" fill="#fff" stroke="#000" stroke-width="1.1"/>
<path d="M438 343.3L435.11 337.5L440.9 337.5Z" fill="#fff" stroke="#000" stroke-width="1.1"/>
<path d="M444.12 345L441.23 339.2L447.02 339.2Z" fill="#fff" stroke="#000" stroke-width="1.1"/>
<path d="M450.24 347.2L447.35 341.4L453.14 341.4Z" fill="#fff" stroke="#000" stroke-width="1.1"/>
<path d="M456.37 348.4L453.47 342.6L459.26 342.6Z" fill="#fff" stroke="#000" stroke-width="1.1"/>
<path d="M462.49 350.6L459.59 344.8L465.38 344.8Z" fill="#fff" stroke="#000" stroke-width="1.1"/>
<path d="M468.61 350.5L465.71 344.7L471.5 344.7Z" fill="#fff" stroke="#000" stroke-width="1.1"/>
<path d="M474.73 351.4L471.83 345.6L477.62 345.6Z" fill="#fff" stroke="#000" stroke-width="1.1"/>
<path d="M480.85 352.4L477.95 346.6L483.74 346.6Z" fill="#fff" stroke="#000" stroke-width="1.1"/>
<path d="M486.97 355.2L484.07 349.4L489.87 349.4Z" fill="#fff" stroke="#000" stroke-width="1.1"/>
<path d="M493.09 355.2L490.19 349.4L495.99 349.4Z" fill="#fff" stroke="#000" stroke-width="1.1"/>
<path d="M499.21 355.5L496.31 349.7L502.11 349.7Z" fill="#fff" stroke="#000" stroke-width="1.1"/>
<path d="M552.4 363.1L549.51 357.3L555.3 357.3Z" fill="#fff" stroke="#000" stroke-width="1.1"/>
<path d="M558.52 362.5L555.63 356.7L561.42 356.7Z" fill="#fff" stroke="#000" stroke-width="1.1"/>
<path d="M564.64 360.5L561.75 354.7L567.54 354.7Z" fill="#fff" stroke="#000" stroke-width="1.1"/>
<path d="M570.77 363.7L567.87 357.9L573.66 357.9Z" fill="#fff" stroke="#000" stroke-width="1.1"/>
<path d="M576.89 363.7L573.99 357.9L579.78 357.9Z" fill="#fff" stroke="#000" stroke-width="1.1"/>
<path d="M583.01 364.5L580.11 358.7L585.9 358.7Z" fill="#fff" stroke="#000" stroke-width="1.1"/>
<path d="M589.13 366L586.23 360.2L592.02 360.2Z" fill="#fff" stroke="#000" stroke-width="1.1"/>
<path d="M595.25 368.4L592.35 362.6L598.14 362.6Z" fill="#fff" stroke="#000" stroke-width="1.1"/>
<path d="M601.37 367.8L598.47 362L604.27 362Z" fill="#fff" stroke="#000" stroke-width="1.1"/>
<path d="M607.49 370.4L604.59 364.6L610.39 364.6Z" fill="#fff" stroke="#000" stroke-width="1.1"/>
<path d="M613.61 373.9L610.71 368.1L616.51 368.1Z" fill="#fff" stroke="#000" stroke-width="1.1"/>
<path d="M644.21 388.9L641.31 383.1L647.11 383.1Z" fill="#fff" stroke="#000" stroke-width="1.1"/>
</g>
<path d="M391 241.5H387.62M391 274.5H387.62M391 307.5H387.62M391 340.5H387.62M391 373.5H387.62M391 406.5H387.62M391 439.5H387.62M391.1 439.5V442.88M448.3 439.5V442.88M505.5 439.5V442.88M562.7 439.5V442.88M619.9 439.5V442.88M677.1 439.5V442.88" stroke="#000" stroke-width="0.77" fill="none"/>
<path d="M391 248.1H389.07M391 254.7H389.07M391 261.3H389.07M391 267.9H389.07M391 281.1H389.07M391 287.7H389.07M391 294.3H389.07M391 300.9H389.07M391 314.1H389.07M391 320.7H389.07M391 327.3H389.07M391 333.9H389.07M391 347.1H389.07M391 353.7H389.07M391 360.3H389.07M391 366.9H389.07M391 380.1H389.07M391 386.7H389.07M391 393.3H389.07M391 399.9H389.07M391 413.1H389.07M391 419.7H389.07M391 426.3H389.07M391 432.9H389.07M405.4 439.5V441.43M419.7 439.5V441.43M434 439.5V441.43M462.6 439.5V441.43M476.9 439.5V441.43M491.2 439.5V441.43M519.8 439.5V441.43M534.1 439.5V441.43M548.4 439.5V441.43M577 439.5V441.43M591.3 439.5V441.43M605.6 439.5V441.43M634.2 439.5V441.43M648.5 439.5V441.43M662.8 439.5V441.43" stroke="#000" stroke-width="0.58" fill="none"/>
<text x="384.24" y="245.35" font-size="10.2" text-anchor="end" font-family='"Liberation Sans", sans-serif' fill="#000" textLength="23.46" lengthAdjust="spacingAndGlyphs">−2.0</text>
<text x="384.24" y="278.35" font-size="10.2" text-anchor="end" font-family='"Liberation Sans", sans-serif' fill="#000" textLength="23.46" lengthAdjust="spacingAndGlyphs">−1.5</text>
<text x="384.24" y="311.35" font-size="10.2" text-anchor="end" font-family='"Liberation Sans", sans-serif' fill="#000" textLength="23.46" lengthAdjust="spacingAndGlyphs">−1.0</text>
<text x="384.24" y="344.35" font-size="10.2" text-anchor="end" font-family='"Liberation Sans", sans-serif' fill="#000" textLength="23.46" lengthAdjust="spacingAndGlyphs">−0.5</text>
<text x="384.24" y="377.35" font-size="10.2" text-anchor="end" font-family='"Liberation Sans", sans-serif' fill="#000" textLength="15.36" lengthAdjust="spacingAndGlyphs">0.0</text>
<text x="384.24" y="410.35" font-size="10.2" text-anchor="end" font-family='"Liberation Sans", sans-serif' fill="#000" textLength="15.36" lengthAdjust="spacingAndGlyphs">0.5</text>
<text x="384.24" y="443.35" font-size="10.2" text-anchor="end" font-family='"Liberation Sans", sans-serif' fill="#000" textLength="15.36" lengthAdjust="spacingAndGlyphs">1.0</text>
<text x="391.1" y="453.2" font-size="10.2" text-anchor="middle" font-family='"Liberation Sans", sans-serif' fill="#000" textLength="15.36" lengthAdjust="spacingAndGlyphs">0.0</text>
<text x="448.3" y="453.2" font-size="10.2" text-anchor="middle" font-family='"Liberation Sans", sans-serif' fill="#000" textLength="15.36" lengthAdjust="spacingAndGlyphs">0.2</text>
<text x="505.5" y="453.2" font-size="10.2" text-anchor="middle" font-family='"Liberation Sans", sans-serif' fill="#000" textLength="15.36" lengthAdjust="spacingAndGlyphs">0.4</text>
<text x="562.7" y="453.2" font-size="10.2" text-anchor="middle" font-family='"Liberation Sans", sans-serif' fill="#000" textLength="15.36" lengthAdjust="spacingAndGlyphs">0.6</text>
<text x="619.9" y="453.2" font-size="10.2" text-anchor="middle" font-family='"Liberation Sans", sans-serif' fill="#000" textLength="15.36" lengthAdjust="spacingAndGlyphs">0.8</text>
<text x="677.1" y="453.2" font-size="10.2" text-anchor="middle" font-family='"Liberation Sans", sans-serif' fill="#000" textLength="15.36" lengthAdjust="spacingAndGlyphs">1.0</text>
<text x="534.5" y="467.3" font-size="11.22" text-anchor="middle" font-family='"Liberation Sans", sans-serif' fill="#000" textLength="135.25" lengthAdjust="spacingAndGlyphs">Normalized Chord Length</text>
<g transform="translate(353.1 340.5) rotate(-90)">
<text x="-5.6" y="0" font-size="11.22" font-family='"Liberation Sans", sans-serif' font-style="italic" textLength="7.42" lengthAdjust="spacingAndGlyphs">C</text>
<text x="2.0" y="0.9" font-size="7.85" font-family='"Liberation Sans", sans-serif' font-style="italic">p</text>
</g>
<circle cx="405.3" cy="257.45" r="7.45" fill="none" stroke="#000" stroke-width="0.9"/>
<text x="405.4" y="260.45" font-size="10.2" text-anchor="middle" font-family='"Liberation Sans", sans-serif' fill="#000" textLength="6.15" lengthAdjust="spacingAndGlyphs">4</text>
<rect x="446.25" y="402.3" width="161.3" height="34.0" fill="#d6ebf2" stroke="#000" stroke-opacity="0.5" stroke-width="1"/>
<text x="447.95" y="410.9" font-size="10" font-family='"Liberation Mono", monospace' fill="#000" xml:space="preserve" textLength="145.39" lengthAdjust="spacingAndGlyphs">RH Wing Part Shear Forces</text>
<text x="447.95" y="421.85" font-size="10" font-family='"Liberation Mono", monospace' fill="#000" xml:space="preserve" textLength="104.68" lengthAdjust="spacingAndGlyphs">FZ SG:       501 N</text>
<rect x="459.58" y="423.7" width="5.82" height="0.55" fill="#000" fill-opacity="0.8"/>
<text x="447.95" y="432.8" font-size="10" font-family='"Liberation Mono", monospace' fill="#000" xml:space="preserve" textLength="104.68" lengthAdjust="spacingAndGlyphs">FZ MEMS:      10 N</text>
<rect x="459.58" y="434.65" width="5.82" height="0.55" fill="#000" fill-opacity="0.8"/>
<path d="M391 241.8H677.2" stroke="#000" stroke-width="0.85" fill="none" stroke-linecap="square"/>
<path d="M391 439.5H677.2" stroke="#000" stroke-width="0.72" fill="none" stroke-linecap="square"/>
<path d="M391 241.5V439.5M677.2 241.5V439.5" stroke="#000" stroke-width="0.88" fill="none" stroke-linecap="square"/>
<rect x="184.1" y="9.4" width="144.6" height="73" rx="2.5" fill="#fff" fill-opacity="0.8" stroke="#d2d2d2" stroke-width="0.97"/>
<path d="M187.7 17H207.1" stroke="#000" stroke-width="0.97" stroke-dasharray="3.57 1.55"/>
<path d="M187.7 31.08H207.1" stroke="#000" stroke-width="0.97" stroke-dasharray="6.18 1.55 0.97 1.55"/>
<path d="M194.55 42.26L200.35 48.06M194.55 48.06L200.35 42.26" fill="none" stroke="#ff0000" stroke-width="1.3"/>
<path d="M197.45 54.34V64.14M194.55 54.34H200.35M194.55 64.14H200.35" stroke="#000" stroke-width="0.97"/>
<path d="M197.45 56.34L194.55 62.14L200.35 62.14Z" fill="#000" stroke="#000" stroke-width="1.1"/>
<path d="M197.45 68.42V78.22M194.55 68.42H200.35M194.55 78.22H200.35" stroke="#000" stroke-width="0.97"/>
<path d="M197.45 76.22L194.55 70.42L200.35 70.42Z" fill="#fff" stroke="#000" stroke-width="1.1"/>
<text x="214.3" y="20.9" font-size="10.2" text-anchor="start" font-family='"Liberation Sans", sans-serif' fill="#000" textLength="109.26" lengthAdjust="spacingAndGlyphs">Upper Pressure Dis. Fit</text>
<text x="214.3" y="34.98" font-size="10.2" text-anchor="start" font-family='"Liberation Sans", sans-serif' fill="#000" textLength="108.95" lengthAdjust="spacingAndGlyphs">Lower Pressure Dis. Fit</text>
<text x="214.3" y="49.06" font-size="10.2" text-anchor="start" font-family='"Liberation Sans", sans-serif' fill="#000" textLength="65.24" lengthAdjust="spacingAndGlyphs">Support Point</text>
<text x="214.3" y="63.14" font-size="10.2" text-anchor="start" font-family='"Liberation Sans", sans-serif' fill="#000" textLength="110.34" lengthAdjust="spacingAndGlyphs">Upper Surface Sensors</text>
<text x="214.3" y="77.22" font-size="10.2" text-anchor="start" font-family='"Liberation Sans", sans-serif' fill="#000" textLength="110.02" lengthAdjust="spacingAndGlyphs">Lower Surface Sensors</text>
</svg>
</body></html>
